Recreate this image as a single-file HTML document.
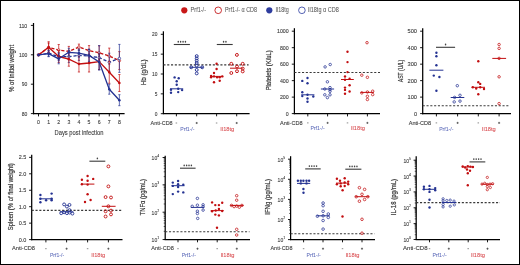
<!DOCTYPE html><html><head><meta charset="utf-8"><style>html,body{margin:0;padding:0;background:#fff;}svg{display:block;will-change:transform;}text{font-family:"Liberation Sans", sans-serif;}</style></head><body>
<svg width="520" height="265" viewBox="0 0 520 265">
<rect x="0" y="0" width="520" height="265" fill="#fff"/>
<circle cx="184.3" cy="10.3" r="3.1" fill="#c81818"/>
<text x="190.6" y="12.3" font-size="6.6" text-anchor="start" fill="#555" stroke="#555" stroke-width="0.05" textLength="15.4" lengthAdjust="spacingAndGlyphs">Prf1-/-</text>
<circle cx="218.2" cy="10.3" r="3.3" fill="none" stroke="#c20e10" stroke-width="0.85"/>
<text x="225" y="12.3" font-size="6.6" text-anchor="start" fill="#555" stroke="#555" stroke-width="0.05" textLength="32" lengthAdjust="spacingAndGlyphs">Prf1-/- α CD8</text>
<circle cx="269.3" cy="10.3" r="3.1" fill="#2e3c9e"/>
<text x="275.6" y="12.3" font-size="6.6" text-anchor="start" fill="#555" stroke="#555" stroke-width="0.05" textLength="13.2" lengthAdjust="spacingAndGlyphs">Il18tg</text>
<circle cx="301.9" cy="10.3" r="3.3" fill="none" stroke="#3444a4" stroke-width="0.85"/>
<text x="308" y="12.3" font-size="6.6" text-anchor="start" fill="#555" stroke="#555" stroke-width="0.05" textLength="30.7" lengthAdjust="spacingAndGlyphs">Il18tg α CD8</text>
<line x1="33.5" y1="23" x2="33.5" y2="114.2" stroke="#000" stroke-width="1.25" stroke-linecap="butt"/>
<line x1="30.9" y1="25.4" x2="33.5" y2="25.4" stroke="#000" stroke-width="0.9" stroke-linecap="butt"/>
<text x="27.3" y="27.5" font-size="6" text-anchor="end" fill="#3a3a3a" stroke="#3a3a3a" stroke-width="0.1" textLength="8.4" lengthAdjust="spacingAndGlyphs">110</text>
<line x1="30.9" y1="54.8" x2="33.5" y2="54.8" stroke="#000" stroke-width="0.9" stroke-linecap="butt"/>
<text x="27.3" y="56.9" font-size="6" text-anchor="end" fill="#3a3a3a" stroke="#3a3a3a" stroke-width="0.1" textLength="8.4" lengthAdjust="spacingAndGlyphs">100</text>
<line x1="30.9" y1="84.2" x2="33.5" y2="84.2" stroke="#000" stroke-width="0.9" stroke-linecap="butt"/>
<text x="27.3" y="86.3" font-size="6" text-anchor="end" fill="#3a3a3a" stroke="#3a3a3a" stroke-width="0.1" textLength="5.6" lengthAdjust="spacingAndGlyphs">90</text>
<line x1="30.9" y1="113.6" x2="33.5" y2="113.6" stroke="#000" stroke-width="0.9" stroke-linecap="butt"/>
<text x="27.3" y="115.7" font-size="6" text-anchor="end" fill="#3a3a3a" stroke="#3a3a3a" stroke-width="0.1" textLength="5.6" lengthAdjust="spacingAndGlyphs">80</text>
<line x1="32.9" y1="113.7" x2="124.6" y2="113.7" stroke="#000" stroke-width="1.25" stroke-linecap="butt"/>
<line x1="38.5" y1="113.6" x2="38.5" y2="116.4" stroke="#000" stroke-width="0.9" stroke-linecap="butt"/>
<text x="38.5" y="124.1" font-size="6" text-anchor="middle" fill="#3a3a3a" stroke="#3a3a3a" stroke-width="0.1" textLength="2.9" lengthAdjust="spacingAndGlyphs">0</text>
<line x1="48.61" y1="113.6" x2="48.61" y2="116.4" stroke="#000" stroke-width="0.9" stroke-linecap="butt"/>
<text x="48.61" y="124.1" font-size="6" text-anchor="middle" fill="#3a3a3a" stroke="#3a3a3a" stroke-width="0.1" textLength="2.9" lengthAdjust="spacingAndGlyphs">1</text>
<line x1="58.72" y1="113.6" x2="58.72" y2="116.4" stroke="#000" stroke-width="0.9" stroke-linecap="butt"/>
<text x="58.72" y="124.1" font-size="6" text-anchor="middle" fill="#3a3a3a" stroke="#3a3a3a" stroke-width="0.1" textLength="2.9" lengthAdjust="spacingAndGlyphs">2</text>
<line x1="68.83" y1="113.6" x2="68.83" y2="116.4" stroke="#000" stroke-width="0.9" stroke-linecap="butt"/>
<text x="68.83" y="124.1" font-size="6" text-anchor="middle" fill="#3a3a3a" stroke="#3a3a3a" stroke-width="0.1" textLength="2.9" lengthAdjust="spacingAndGlyphs">3</text>
<line x1="78.94" y1="113.6" x2="78.94" y2="116.4" stroke="#000" stroke-width="0.9" stroke-linecap="butt"/>
<text x="78.94" y="124.1" font-size="6" text-anchor="middle" fill="#3a3a3a" stroke="#3a3a3a" stroke-width="0.1" textLength="2.9" lengthAdjust="spacingAndGlyphs">4</text>
<line x1="89.05" y1="113.6" x2="89.05" y2="116.4" stroke="#000" stroke-width="0.9" stroke-linecap="butt"/>
<text x="89.05" y="124.1" font-size="6" text-anchor="middle" fill="#3a3a3a" stroke="#3a3a3a" stroke-width="0.1" textLength="2.9" lengthAdjust="spacingAndGlyphs">5</text>
<line x1="99.16" y1="113.6" x2="99.16" y2="116.4" stroke="#000" stroke-width="0.9" stroke-linecap="butt"/>
<text x="99.16" y="124.1" font-size="6" text-anchor="middle" fill="#3a3a3a" stroke="#3a3a3a" stroke-width="0.1" textLength="2.9" lengthAdjust="spacingAndGlyphs">6</text>
<line x1="109.27" y1="113.6" x2="109.27" y2="116.4" stroke="#000" stroke-width="0.9" stroke-linecap="butt"/>
<text x="109.27" y="124.1" font-size="6" text-anchor="middle" fill="#3a3a3a" stroke="#3a3a3a" stroke-width="0.1" textLength="2.9" lengthAdjust="spacingAndGlyphs">7</text>
<line x1="119.38" y1="113.6" x2="119.38" y2="116.4" stroke="#000" stroke-width="0.9" stroke-linecap="butt"/>
<text x="119.38" y="124.1" font-size="6" text-anchor="middle" fill="#3a3a3a" stroke="#3a3a3a" stroke-width="0.1" textLength="2.9" lengthAdjust="spacingAndGlyphs">8</text>
<text x="54.6" y="134.9" font-size="7" text-anchor="start" fill="#3a3a3a" stroke="#3a3a3a" stroke-width="0.1" textLength="48.8" lengthAdjust="spacingAndGlyphs">Days post infection</text>
<text transform="translate(13.9 68.45) rotate(-90)" x="0" y="0" font-size="7" text-anchor="middle" fill="#383838" stroke="#383838" stroke-width="0.2" textLength="47.1" lengthAdjust="spacingAndGlyphs">% of initial weight</text>
<line x1="48.61" y1="43" x2="48.61" y2="52" stroke="#c20e10" stroke-width="0.7" stroke-linecap="butt"/>
<line x1="47.51" y1="43" x2="49.71" y2="43" stroke="#c20e10" stroke-width="0.7" stroke-linecap="butt"/>
<line x1="47.51" y1="52" x2="49.71" y2="52" stroke="#c20e10" stroke-width="0.7" stroke-linecap="butt"/>
<line x1="58.72" y1="44.5" x2="58.72" y2="55.5" stroke="#c20e10" stroke-width="0.7" stroke-linecap="butt"/>
<line x1="57.62" y1="44.5" x2="59.82" y2="44.5" stroke="#c20e10" stroke-width="0.7" stroke-linecap="butt"/>
<line x1="57.62" y1="55.5" x2="59.82" y2="55.5" stroke="#c20e10" stroke-width="0.7" stroke-linecap="butt"/>
<line x1="68.83" y1="46.4" x2="68.83" y2="56.4" stroke="#c20e10" stroke-width="0.7" stroke-linecap="butt"/>
<line x1="67.73" y1="46.4" x2="69.93" y2="46.4" stroke="#c20e10" stroke-width="0.7" stroke-linecap="butt"/>
<line x1="67.73" y1="56.4" x2="69.93" y2="56.4" stroke="#c20e10" stroke-width="0.7" stroke-linecap="butt"/>
<line x1="78.94" y1="44.1" x2="78.94" y2="50.1" stroke="#c20e10" stroke-width="0.7" stroke-linecap="butt"/>
<line x1="77.84" y1="44.1" x2="80.04" y2="44.1" stroke="#c20e10" stroke-width="0.7" stroke-linecap="butt"/>
<line x1="77.84" y1="50.1" x2="80.04" y2="50.1" stroke="#c20e10" stroke-width="0.7" stroke-linecap="butt"/>
<line x1="89.05" y1="45.6" x2="89.05" y2="55.6" stroke="#c20e10" stroke-width="0.7" stroke-linecap="butt"/>
<line x1="87.95" y1="45.6" x2="90.15" y2="45.6" stroke="#c20e10" stroke-width="0.7" stroke-linecap="butt"/>
<line x1="87.95" y1="55.6" x2="90.15" y2="55.6" stroke="#c20e10" stroke-width="0.7" stroke-linecap="butt"/>
<line x1="99.16" y1="45.8" x2="99.16" y2="59.8" stroke="#c20e10" stroke-width="0.7" stroke-linecap="butt"/>
<line x1="98.06" y1="45.8" x2="100.26" y2="45.8" stroke="#c20e10" stroke-width="0.7" stroke-linecap="butt"/>
<line x1="98.06" y1="59.8" x2="100.26" y2="59.8" stroke="#c20e10" stroke-width="0.7" stroke-linecap="butt"/>
<line x1="109.27" y1="48.1" x2="109.27" y2="64.1" stroke="#c20e10" stroke-width="0.7" stroke-linecap="butt"/>
<line x1="108.17" y1="48.1" x2="110.37" y2="48.1" stroke="#c20e10" stroke-width="0.7" stroke-linecap="butt"/>
<line x1="108.17" y1="64.1" x2="110.37" y2="64.1" stroke="#c20e10" stroke-width="0.7" stroke-linecap="butt"/>
<line x1="119.38" y1="51.6" x2="119.38" y2="69.6" stroke="#c20e10" stroke-width="0.7" stroke-linecap="butt"/>
<line x1="118.28" y1="51.6" x2="120.48" y2="51.6" stroke="#c20e10" stroke-width="0.7" stroke-linecap="butt"/>
<line x1="118.28" y1="69.6" x2="120.48" y2="69.6" stroke="#c20e10" stroke-width="0.7" stroke-linecap="butt"/>
<polyline points="38.5,54.9 48.61,47.5 58.72,50 68.83,51.4 78.94,47.1 89.05,50.6 99.16,52.8 109.27,56.1 119.38,60.6" fill="none" stroke="#c20e10" stroke-width="1.3" stroke-dasharray="3.2 1.9" stroke-linejoin="round"/>
<circle cx="38.5" cy="54.9" r="1.25" fill="#fff" stroke="#c20e10" stroke-width="0.7"/>
<circle cx="48.61" cy="47.5" r="1.25" fill="#fff" stroke="#c20e10" stroke-width="0.7"/>
<circle cx="58.72" cy="50" r="1.25" fill="#fff" stroke="#c20e10" stroke-width="0.7"/>
<circle cx="68.83" cy="51.4" r="1.25" fill="#fff" stroke="#c20e10" stroke-width="0.7"/>
<circle cx="78.94" cy="47.1" r="1.25" fill="#fff" stroke="#c20e10" stroke-width="0.7"/>
<circle cx="89.05" cy="50.6" r="1.25" fill="#fff" stroke="#c20e10" stroke-width="0.7"/>
<circle cx="99.16" cy="52.8" r="1.25" fill="#fff" stroke="#c20e10" stroke-width="0.7"/>
<circle cx="109.27" cy="56.1" r="1.25" fill="#fff" stroke="#c20e10" stroke-width="0.7"/>
<circle cx="119.38" cy="60.6" r="1.25" fill="#fff" stroke="#c20e10" stroke-width="0.7"/>
<line x1="48.61" y1="50.2" x2="48.61" y2="56.2" stroke="#243292" stroke-width="0.7" stroke-linecap="butt"/>
<line x1="47.51" y1="50.2" x2="49.71" y2="50.2" stroke="#243292" stroke-width="0.7" stroke-linecap="butt"/>
<line x1="47.51" y1="56.2" x2="49.71" y2="56.2" stroke="#243292" stroke-width="0.7" stroke-linecap="butt"/>
<line x1="58.72" y1="52.6" x2="58.72" y2="60.6" stroke="#243292" stroke-width="0.7" stroke-linecap="butt"/>
<line x1="57.62" y1="52.6" x2="59.82" y2="52.6" stroke="#243292" stroke-width="0.7" stroke-linecap="butt"/>
<line x1="57.62" y1="60.6" x2="59.82" y2="60.6" stroke="#243292" stroke-width="0.7" stroke-linecap="butt"/>
<line x1="68.83" y1="50.6" x2="68.83" y2="62.6" stroke="#243292" stroke-width="0.7" stroke-linecap="butt"/>
<line x1="67.73" y1="50.6" x2="69.93" y2="50.6" stroke="#243292" stroke-width="0.7" stroke-linecap="butt"/>
<line x1="67.73" y1="62.6" x2="69.93" y2="62.6" stroke="#243292" stroke-width="0.7" stroke-linecap="butt"/>
<line x1="78.94" y1="50.4" x2="78.94" y2="60.4" stroke="#243292" stroke-width="0.7" stroke-linecap="butt"/>
<line x1="77.84" y1="50.4" x2="80.04" y2="50.4" stroke="#243292" stroke-width="0.7" stroke-linecap="butt"/>
<line x1="77.84" y1="60.4" x2="80.04" y2="60.4" stroke="#243292" stroke-width="0.7" stroke-linecap="butt"/>
<line x1="89.05" y1="49.1" x2="89.05" y2="63.1" stroke="#243292" stroke-width="0.7" stroke-linecap="butt"/>
<line x1="87.95" y1="49.1" x2="90.15" y2="49.1" stroke="#243292" stroke-width="0.7" stroke-linecap="butt"/>
<line x1="87.95" y1="63.1" x2="90.15" y2="63.1" stroke="#243292" stroke-width="0.7" stroke-linecap="butt"/>
<line x1="99.16" y1="45.6" x2="99.16" y2="69.6" stroke="#243292" stroke-width="0.7" stroke-linecap="butt"/>
<line x1="98.06" y1="45.6" x2="100.26" y2="45.6" stroke="#243292" stroke-width="0.7" stroke-linecap="butt"/>
<line x1="98.06" y1="69.6" x2="100.26" y2="69.6" stroke="#243292" stroke-width="0.7" stroke-linecap="butt"/>
<line x1="109.27" y1="53.2" x2="109.27" y2="71.2" stroke="#243292" stroke-width="0.7" stroke-linecap="butt"/>
<line x1="108.17" y1="53.2" x2="110.37" y2="53.2" stroke="#243292" stroke-width="0.7" stroke-linecap="butt"/>
<line x1="108.17" y1="71.2" x2="110.37" y2="71.2" stroke="#243292" stroke-width="0.7" stroke-linecap="butt"/>
<line x1="119.38" y1="44.4" x2="119.38" y2="72.4" stroke="#243292" stroke-width="0.7" stroke-linecap="butt"/>
<line x1="118.28" y1="44.4" x2="120.48" y2="44.4" stroke="#243292" stroke-width="0.7" stroke-linecap="butt"/>
<line x1="118.28" y1="72.4" x2="120.48" y2="72.4" stroke="#243292" stroke-width="0.7" stroke-linecap="butt"/>
<polyline points="38.5,54.9 48.61,53.2 58.72,56.6 68.83,56.6 78.94,55.4 89.05,56.1 99.16,57.6 109.27,62.2 119.38,58.4" fill="none" stroke="#243292" stroke-width="1.3" stroke-dasharray="3.2 1.9" stroke-linejoin="round"/>
<circle cx="38.5" cy="54.9" r="1.25" fill="#fff" stroke="#243292" stroke-width="0.7"/>
<circle cx="48.61" cy="53.2" r="1.25" fill="#fff" stroke="#243292" stroke-width="0.7"/>
<circle cx="58.72" cy="56.6" r="1.25" fill="#fff" stroke="#243292" stroke-width="0.7"/>
<circle cx="68.83" cy="56.6" r="1.25" fill="#fff" stroke="#243292" stroke-width="0.7"/>
<circle cx="78.94" cy="55.4" r="1.25" fill="#fff" stroke="#243292" stroke-width="0.7"/>
<circle cx="89.05" cy="56.1" r="1.25" fill="#fff" stroke="#243292" stroke-width="0.7"/>
<circle cx="99.16" cy="57.6" r="1.25" fill="#fff" stroke="#243292" stroke-width="0.7"/>
<circle cx="109.27" cy="62.2" r="1.25" fill="#fff" stroke="#243292" stroke-width="0.7"/>
<circle cx="119.38" cy="58.4" r="1.25" fill="#fff" stroke="#243292" stroke-width="0.7"/>
<line x1="48.61" y1="41.7" x2="48.61" y2="52.7" stroke="#c20e10" stroke-width="0.7" stroke-linecap="butt"/>
<line x1="47.51" y1="41.7" x2="49.71" y2="41.7" stroke="#c20e10" stroke-width="0.7" stroke-linecap="butt"/>
<line x1="47.51" y1="52.7" x2="49.71" y2="52.7" stroke="#c20e10" stroke-width="0.7" stroke-linecap="butt"/>
<line x1="58.72" y1="50.5" x2="58.72" y2="62.5" stroke="#c20e10" stroke-width="0.7" stroke-linecap="butt"/>
<line x1="57.62" y1="50.5" x2="59.82" y2="50.5" stroke="#c20e10" stroke-width="0.7" stroke-linecap="butt"/>
<line x1="57.62" y1="62.5" x2="59.82" y2="62.5" stroke="#c20e10" stroke-width="0.7" stroke-linecap="butt"/>
<line x1="68.83" y1="52.2" x2="68.83" y2="66.2" stroke="#c20e10" stroke-width="0.7" stroke-linecap="butt"/>
<line x1="67.73" y1="52.2" x2="69.93" y2="52.2" stroke="#c20e10" stroke-width="0.7" stroke-linecap="butt"/>
<line x1="67.73" y1="66.2" x2="69.93" y2="66.2" stroke="#c20e10" stroke-width="0.7" stroke-linecap="butt"/>
<line x1="78.94" y1="56" x2="78.94" y2="72" stroke="#c20e10" stroke-width="0.7" stroke-linecap="butt"/>
<line x1="77.84" y1="56" x2="80.04" y2="56" stroke="#c20e10" stroke-width="0.7" stroke-linecap="butt"/>
<line x1="77.84" y1="72" x2="80.04" y2="72" stroke="#c20e10" stroke-width="0.7" stroke-linecap="butt"/>
<line x1="89.05" y1="54" x2="89.05" y2="72" stroke="#c20e10" stroke-width="0.7" stroke-linecap="butt"/>
<line x1="87.95" y1="54" x2="90.15" y2="54" stroke="#c20e10" stroke-width="0.7" stroke-linecap="butt"/>
<line x1="87.95" y1="72" x2="90.15" y2="72" stroke="#c20e10" stroke-width="0.7" stroke-linecap="butt"/>
<line x1="99.16" y1="53.6" x2="99.16" y2="69.6" stroke="#c20e10" stroke-width="0.7" stroke-linecap="butt"/>
<line x1="98.06" y1="53.6" x2="100.26" y2="53.6" stroke="#c20e10" stroke-width="0.7" stroke-linecap="butt"/>
<line x1="98.06" y1="69.6" x2="100.26" y2="69.6" stroke="#c20e10" stroke-width="0.7" stroke-linecap="butt"/>
<line x1="109.27" y1="61.3" x2="109.27" y2="83.3" stroke="#c20e10" stroke-width="0.7" stroke-linecap="butt"/>
<line x1="108.17" y1="61.3" x2="110.37" y2="61.3" stroke="#c20e10" stroke-width="0.7" stroke-linecap="butt"/>
<line x1="108.17" y1="83.3" x2="110.37" y2="83.3" stroke="#c20e10" stroke-width="0.7" stroke-linecap="butt"/>
<line x1="119.38" y1="74.5" x2="119.38" y2="91.5" stroke="#c20e10" stroke-width="0.7" stroke-linecap="butt"/>
<line x1="118.28" y1="74.5" x2="120.48" y2="74.5" stroke="#c20e10" stroke-width="0.7" stroke-linecap="butt"/>
<line x1="118.28" y1="91.5" x2="120.48" y2="91.5" stroke="#c20e10" stroke-width="0.7" stroke-linecap="butt"/>
<polyline points="38.5,54.9 48.61,47.2 58.72,56.5 68.83,59.2 78.94,64 89.05,63 99.16,61.6 109.27,72.3 119.38,83" fill="none" stroke="#c20e10" stroke-width="1.3" stroke-linejoin="round"/>
<circle cx="38.5" cy="54.9" r="1.25" fill="#c20e10"/>
<circle cx="48.61" cy="47.2" r="1.25" fill="#c20e10"/>
<circle cx="58.72" cy="56.5" r="1.25" fill="#c20e10"/>
<circle cx="68.83" cy="59.2" r="1.25" fill="#c20e10"/>
<circle cx="78.94" cy="64" r="1.25" fill="#c20e10"/>
<circle cx="89.05" cy="63" r="1.25" fill="#c20e10"/>
<circle cx="99.16" cy="61.6" r="1.25" fill="#c20e10"/>
<circle cx="109.27" cy="72.3" r="1.25" fill="#c20e10"/>
<circle cx="119.38" cy="83" r="1.25" fill="#c20e10"/>
<line x1="48.61" y1="50.7" x2="48.61" y2="56.7" stroke="#243292" stroke-width="0.7" stroke-linecap="butt"/>
<line x1="47.51" y1="50.7" x2="49.71" y2="50.7" stroke="#243292" stroke-width="0.7" stroke-linecap="butt"/>
<line x1="47.51" y1="56.7" x2="49.71" y2="56.7" stroke="#243292" stroke-width="0.7" stroke-linecap="butt"/>
<line x1="58.72" y1="53.8" x2="58.72" y2="63.8" stroke="#243292" stroke-width="0.7" stroke-linecap="butt"/>
<line x1="57.62" y1="53.8" x2="59.82" y2="53.8" stroke="#243292" stroke-width="0.7" stroke-linecap="butt"/>
<line x1="57.62" y1="63.8" x2="59.82" y2="63.8" stroke="#243292" stroke-width="0.7" stroke-linecap="butt"/>
<line x1="68.83" y1="48.3" x2="68.83" y2="56.3" stroke="#243292" stroke-width="0.7" stroke-linecap="butt"/>
<line x1="67.73" y1="48.3" x2="69.93" y2="48.3" stroke="#243292" stroke-width="0.7" stroke-linecap="butt"/>
<line x1="67.73" y1="56.3" x2="69.93" y2="56.3" stroke="#243292" stroke-width="0.7" stroke-linecap="butt"/>
<line x1="78.94" y1="49.2" x2="78.94" y2="57.2" stroke="#243292" stroke-width="0.7" stroke-linecap="butt"/>
<line x1="77.84" y1="49.2" x2="80.04" y2="49.2" stroke="#243292" stroke-width="0.7" stroke-linecap="butt"/>
<line x1="77.84" y1="57.2" x2="80.04" y2="57.2" stroke="#243292" stroke-width="0.7" stroke-linecap="butt"/>
<line x1="89.05" y1="49.4" x2="89.05" y2="61.4" stroke="#243292" stroke-width="0.7" stroke-linecap="butt"/>
<line x1="87.95" y1="49.4" x2="90.15" y2="49.4" stroke="#243292" stroke-width="0.7" stroke-linecap="butt"/>
<line x1="87.95" y1="61.4" x2="90.15" y2="61.4" stroke="#243292" stroke-width="0.7" stroke-linecap="butt"/>
<line x1="99.16" y1="54" x2="99.16" y2="70" stroke="#243292" stroke-width="0.7" stroke-linecap="butt"/>
<line x1="98.06" y1="54" x2="100.26" y2="54" stroke="#243292" stroke-width="0.7" stroke-linecap="butt"/>
<line x1="98.06" y1="70" x2="100.26" y2="70" stroke="#243292" stroke-width="0.7" stroke-linecap="butt"/>
<line x1="109.27" y1="84.2" x2="109.27" y2="94.2" stroke="#243292" stroke-width="0.7" stroke-linecap="butt"/>
<line x1="108.17" y1="84.2" x2="110.37" y2="84.2" stroke="#243292" stroke-width="0.7" stroke-linecap="butt"/>
<line x1="108.17" y1="94.2" x2="110.37" y2="94.2" stroke="#243292" stroke-width="0.7" stroke-linecap="butt"/>
<line x1="119.38" y1="94.7" x2="119.38" y2="105.7" stroke="#243292" stroke-width="0.7" stroke-linecap="butt"/>
<line x1="118.28" y1="94.7" x2="120.48" y2="94.7" stroke="#243292" stroke-width="0.7" stroke-linecap="butt"/>
<line x1="118.28" y1="105.7" x2="120.48" y2="105.7" stroke="#243292" stroke-width="0.7" stroke-linecap="butt"/>
<polyline points="38.5,54.9 48.61,53.7 58.72,58.8 68.83,52.3 78.94,53.2 89.05,55.4 99.16,62 109.27,89.2 119.38,100.2" fill="none" stroke="#243292" stroke-width="1.3" stroke-linejoin="round"/>
<circle cx="38.5" cy="54.9" r="1.25" fill="#243292"/>
<circle cx="48.61" cy="53.7" r="1.25" fill="#243292"/>
<circle cx="58.72" cy="58.8" r="1.25" fill="#243292"/>
<circle cx="68.83" cy="52.3" r="1.25" fill="#243292"/>
<circle cx="78.94" cy="53.2" r="1.25" fill="#243292"/>
<circle cx="89.05" cy="55.4" r="1.25" fill="#243292"/>
<circle cx="99.16" cy="62" r="1.25" fill="#243292"/>
<circle cx="109.27" cy="89.2" r="1.25" fill="#243292"/>
<circle cx="119.38" cy="100.2" r="1.25" fill="#243292"/>
<line x1="163.4" y1="31.3" x2="163.4" y2="114.1" stroke="#000" stroke-width="1.25" stroke-linecap="butt"/>
<line x1="160.8" y1="34.3" x2="163.4" y2="34.3" stroke="#000" stroke-width="0.9" stroke-linecap="butt"/>
<text x="157.5" y="36.4" font-size="6" text-anchor="end" fill="#3a3a3a" stroke="#3a3a3a" stroke-width="0.1" textLength="5.4" lengthAdjust="spacingAndGlyphs">20</text>
<line x1="160.8" y1="54.15" x2="163.4" y2="54.15" stroke="#000" stroke-width="0.9" stroke-linecap="butt"/>
<text x="157.5" y="56.25" font-size="6" text-anchor="end" fill="#3a3a3a" stroke="#3a3a3a" stroke-width="0.1" textLength="5.4" lengthAdjust="spacingAndGlyphs">15</text>
<line x1="160.8" y1="74" x2="163.4" y2="74" stroke="#000" stroke-width="0.9" stroke-linecap="butt"/>
<text x="157.5" y="76.1" font-size="6" text-anchor="end" fill="#3a3a3a" stroke="#3a3a3a" stroke-width="0.1" textLength="5.4" lengthAdjust="spacingAndGlyphs">10</text>
<line x1="160.8" y1="93.85" x2="163.4" y2="93.85" stroke="#000" stroke-width="0.9" stroke-linecap="butt"/>
<text x="157.5" y="95.95" font-size="6" text-anchor="end" fill="#3a3a3a" stroke="#3a3a3a" stroke-width="0.1" textLength="2.7" lengthAdjust="spacingAndGlyphs">5</text>
<line x1="160.8" y1="113.7" x2="163.4" y2="113.7" stroke="#000" stroke-width="0.9" stroke-linecap="butt"/>
<text x="157.5" y="115.8" font-size="6" text-anchor="end" fill="#3a3a3a" stroke="#3a3a3a" stroke-width="0.1" textLength="2.7" lengthAdjust="spacingAndGlyphs">0</text>
<text transform="translate(146.2 72.3) rotate(-90)" x="0" y="0" font-size="6.6" text-anchor="middle" fill="#383838" stroke="#383838" stroke-width="0.2" textLength="26" lengthAdjust="spacingAndGlyphs">Hb (g/dL)</text>
<line x1="162.8" y1="113.5" x2="249.6" y2="113.5" stroke="#000" stroke-width="1.25" stroke-linecap="butt"/>
<line x1="176.4" y1="113.5" x2="176.4" y2="116.3" stroke="#000" stroke-width="0.9" stroke-linecap="butt"/>
<line x1="196.7" y1="113.5" x2="196.7" y2="116.3" stroke="#000" stroke-width="0.9" stroke-linecap="butt"/>
<line x1="216.6" y1="113.5" x2="216.6" y2="116.3" stroke="#000" stroke-width="0.9" stroke-linecap="butt"/>
<line x1="236.7" y1="113.5" x2="236.7" y2="116.3" stroke="#000" stroke-width="0.9" stroke-linecap="butt"/>
<text x="150.5" y="124.6" font-size="6" text-anchor="start" fill="#3a3a3a" stroke="#3a3a3a" stroke-width="0.1" textLength="22.1" lengthAdjust="spacingAndGlyphs">Anti-CD8</text>
<line x1="175.65" y1="123" x2="177.15" y2="123" stroke="#666" stroke-width="0.75" stroke-linecap="butt"/>
<line x1="195.65" y1="123" x2="197.75" y2="123" stroke="#444" stroke-width="0.75" stroke-linecap="butt"/>
<line x1="196.7" y1="121.95" x2="196.7" y2="124.05" stroke="#444" stroke-width="0.75" stroke-linecap="butt"/>
<line x1="215.85" y1="123" x2="217.35" y2="123" stroke="#666" stroke-width="0.75" stroke-linecap="butt"/>
<line x1="235.65" y1="123" x2="237.75" y2="123" stroke="#444" stroke-width="0.75" stroke-linecap="butt"/>
<line x1="236.7" y1="121.95" x2="236.7" y2="124.05" stroke="#444" stroke-width="0.75" stroke-linecap="butt"/>
<text x="187.4" y="130.9" font-size="6" text-anchor="middle" fill="#5a68b8" stroke="#5a68b8" stroke-width="0.05" textLength="14.2" lengthAdjust="spacingAndGlyphs">Prf1-/-</text>
<text x="227.3" y="130.9" font-size="6" text-anchor="middle" fill="#d8484c" stroke="#d8484c" stroke-width="0.05" textLength="14" lengthAdjust="spacingAndGlyphs">Il18tg</text>
<line x1="163.4" y1="64.8" x2="248.6" y2="64.8" stroke="#3a3a3a" stroke-width="1.2" stroke-dasharray="2.1 1.7" stroke-linecap="butt"/>
<line x1="173.8" y1="44.5" x2="189.9" y2="44.5" stroke="#3a3a3a" stroke-width="1.1" stroke-linecap="butt"/>
<ellipse cx="178.25" cy="41.7" rx="0.75" ry="0.95" fill="#444"/>
<ellipse cx="180.65" cy="41.7" rx="0.75" ry="0.95" fill="#444"/>
<ellipse cx="183.05" cy="41.7" rx="0.75" ry="0.95" fill="#444"/>
<ellipse cx="185.45" cy="41.7" rx="0.75" ry="0.95" fill="#444"/>
<line x1="216.8" y1="44.5" x2="232.7" y2="44.5" stroke="#3a3a3a" stroke-width="1.1" stroke-linecap="butt"/>
<ellipse cx="223.55" cy="41.7" rx="0.75" ry="0.95" fill="#444"/>
<ellipse cx="225.95" cy="41.7" rx="0.75" ry="0.95" fill="#444"/>
<circle cx="174.6" cy="77.4" r="1.2" fill="#243292"/>
<circle cx="178.7" cy="78.3" r="1.2" fill="#243292"/>
<circle cx="176.7" cy="81.3" r="1.2" fill="#243292"/>
<circle cx="176.7" cy="84.7" r="1.2" fill="#243292"/>
<circle cx="171" cy="89.7" r="1.2" fill="#243292"/>
<circle cx="171" cy="92.8" r="1.2" fill="#243292"/>
<circle cx="178.2" cy="92.1" r="1.2" fill="#243292"/>
<circle cx="182.1" cy="90.1" r="1.2" fill="#243292"/>
<circle cx="178.2" cy="88.8" r="1.2" fill="#243292"/>
<line x1="170" y1="88.8" x2="183.2" y2="88.8" stroke="#243292" stroke-width="1" stroke-linecap="butt"/>
<circle cx="196.7" cy="56.1" r="1.45" fill="none" stroke="#243292" stroke-width="0.95"/>
<circle cx="196.7" cy="58.4" r="1.45" fill="none" stroke="#243292" stroke-width="0.95"/>
<circle cx="196.7" cy="60.7" r="1.45" fill="none" stroke="#243292" stroke-width="0.95"/>
<circle cx="196.7" cy="63" r="1.45" fill="none" stroke="#243292" stroke-width="0.95"/>
<circle cx="196.7" cy="65.6" r="1.45" fill="none" stroke="#243292" stroke-width="0.95"/>
<circle cx="191.2" cy="67.3" r="1.45" fill="none" stroke="#243292" stroke-width="0.95"/>
<circle cx="202.2" cy="67.3" r="1.45" fill="none" stroke="#243292" stroke-width="0.95"/>
<circle cx="196.7" cy="69.9" r="1.45" fill="none" stroke="#243292" stroke-width="0.95"/>
<circle cx="196.7" cy="73.4" r="1.45" fill="none" stroke="#243292" stroke-width="0.95"/>
<line x1="190" y1="67.3" x2="203.2" y2="67.3" stroke="#243292" stroke-width="1" stroke-linecap="butt"/>
<circle cx="216.6" cy="63.8" r="1.2" fill="#c20e10"/>
<circle cx="216.6" cy="69" r="1.2" fill="#c20e10"/>
<circle cx="214" cy="73" r="1.2" fill="#c20e10"/>
<circle cx="211.1" cy="75.9" r="1.2" fill="#c20e10"/>
<circle cx="211.1" cy="77.3" r="1.2" fill="#c20e10"/>
<circle cx="214" cy="76.4" r="1.2" fill="#c20e10"/>
<circle cx="217.1" cy="77.3" r="1.2" fill="#c20e10"/>
<circle cx="219.7" cy="77.3" r="1.2" fill="#c20e10"/>
<circle cx="214" cy="82.2" r="1.2" fill="#c20e10"/>
<circle cx="219.7" cy="80.8" r="1.2" fill="#c20e10"/>
<circle cx="222.3" cy="76.4" r="1.2" fill="#c20e10"/>
<line x1="210.2" y1="76.4" x2="223.2" y2="76.4" stroke="#c20e10" stroke-width="1" stroke-linecap="butt"/>
<circle cx="236.9" cy="54.9" r="1.45" fill="none" stroke="#c20e10" stroke-width="0.95"/>
<circle cx="231.3" cy="63.8" r="1.45" fill="none" stroke="#c20e10" stroke-width="0.95"/>
<circle cx="242.7" cy="63.8" r="1.45" fill="none" stroke="#c20e10" stroke-width="0.95"/>
<circle cx="237" cy="66.5" r="1.45" fill="none" stroke="#c20e10" stroke-width="0.95"/>
<circle cx="231.3" cy="73" r="1.45" fill="none" stroke="#c20e10" stroke-width="0.95"/>
<circle cx="237" cy="71.2" r="1.45" fill="none" stroke="#c20e10" stroke-width="0.95"/>
<circle cx="242.7" cy="71.4" r="1.45" fill="none" stroke="#c20e10" stroke-width="0.95"/>
<circle cx="242.7" cy="68.6" r="1.45" fill="none" stroke="#c20e10" stroke-width="0.95"/>
<line x1="230" y1="68.2" x2="242.8" y2="68.2" stroke="#c20e10" stroke-width="1" stroke-linecap="butt"/>
<line x1="294.4" y1="28.2" x2="294.4" y2="114.2" stroke="#000" stroke-width="1.25" stroke-linecap="butt"/>
<line x1="291.8" y1="31.2" x2="294.4" y2="31.2" stroke="#000" stroke-width="0.9" stroke-linecap="butt"/>
<text x="288.7" y="33.3" font-size="6" text-anchor="end" fill="#3a3a3a" stroke="#3a3a3a" stroke-width="0.1" textLength="11.7" lengthAdjust="spacingAndGlyphs">1000</text>
<line x1="291.8" y1="47.68" x2="294.4" y2="47.68" stroke="#000" stroke-width="0.9" stroke-linecap="butt"/>
<text x="288.7" y="49.78" font-size="6" text-anchor="end" fill="#3a3a3a" stroke="#3a3a3a" stroke-width="0.1" textLength="8.8" lengthAdjust="spacingAndGlyphs">800</text>
<line x1="291.8" y1="64.16" x2="294.4" y2="64.16" stroke="#000" stroke-width="0.9" stroke-linecap="butt"/>
<text x="288.7" y="66.26" font-size="6" text-anchor="end" fill="#3a3a3a" stroke="#3a3a3a" stroke-width="0.1" textLength="8.8" lengthAdjust="spacingAndGlyphs">600</text>
<line x1="291.8" y1="80.64" x2="294.4" y2="80.64" stroke="#000" stroke-width="0.9" stroke-linecap="butt"/>
<text x="288.7" y="82.74" font-size="6" text-anchor="end" fill="#3a3a3a" stroke="#3a3a3a" stroke-width="0.1" textLength="8.8" lengthAdjust="spacingAndGlyphs">400</text>
<line x1="291.8" y1="97.12" x2="294.4" y2="97.12" stroke="#000" stroke-width="0.9" stroke-linecap="butt"/>
<text x="288.7" y="99.22" font-size="6" text-anchor="end" fill="#3a3a3a" stroke="#3a3a3a" stroke-width="0.1" textLength="8.8" lengthAdjust="spacingAndGlyphs">200</text>
<line x1="291.8" y1="113.6" x2="294.4" y2="113.6" stroke="#000" stroke-width="0.9" stroke-linecap="butt"/>
<text x="288.7" y="115.7" font-size="6" text-anchor="end" fill="#3a3a3a" stroke="#3a3a3a" stroke-width="0.1" textLength="2.9" lengthAdjust="spacingAndGlyphs">0</text>
<text transform="translate(271.3 70.3) rotate(-90)" x="0" y="0" font-size="6.6" text-anchor="middle" fill="#383838" stroke="#383838" stroke-width="0.2" textLength="40.1" lengthAdjust="spacingAndGlyphs">Platelets (K/uL)</text>
<line x1="293.8" y1="113.6" x2="380" y2="113.6" stroke="#000" stroke-width="1.25" stroke-linecap="butt"/>
<line x1="307.8" y1="113.6" x2="307.8" y2="116.4" stroke="#000" stroke-width="0.9" stroke-linecap="butt"/>
<line x1="327.6" y1="113.6" x2="327.6" y2="116.4" stroke="#000" stroke-width="0.9" stroke-linecap="butt"/>
<line x1="347.5" y1="113.6" x2="347.5" y2="116.4" stroke="#000" stroke-width="0.9" stroke-linecap="butt"/>
<line x1="367.4" y1="113.6" x2="367.4" y2="116.4" stroke="#000" stroke-width="0.9" stroke-linecap="butt"/>
<text x="280" y="124.5" font-size="6" text-anchor="start" fill="#3a3a3a" stroke="#3a3a3a" stroke-width="0.1" textLength="22.5" lengthAdjust="spacingAndGlyphs">Anti-CD8</text>
<line x1="307.05" y1="122.9" x2="308.55" y2="122.9" stroke="#666" stroke-width="0.75" stroke-linecap="butt"/>
<line x1="326.55" y1="122.9" x2="328.65" y2="122.9" stroke="#444" stroke-width="0.75" stroke-linecap="butt"/>
<line x1="327.6" y1="121.85" x2="327.6" y2="123.95" stroke="#444" stroke-width="0.75" stroke-linecap="butt"/>
<line x1="346.75" y1="122.9" x2="348.25" y2="122.9" stroke="#666" stroke-width="0.75" stroke-linecap="butt"/>
<line x1="366.35" y1="122.9" x2="368.45" y2="122.9" stroke="#444" stroke-width="0.75" stroke-linecap="butt"/>
<line x1="367.4" y1="121.85" x2="367.4" y2="123.95" stroke="#444" stroke-width="0.75" stroke-linecap="butt"/>
<text x="317.5" y="130.3" font-size="6" text-anchor="middle" fill="#5a68b8" stroke="#5a68b8" stroke-width="0.05" textLength="14.2" lengthAdjust="spacingAndGlyphs">Prf1-/-</text>
<text x="358" y="130.3" font-size="6" text-anchor="middle" fill="#d8484c" stroke="#d8484c" stroke-width="0.05" textLength="14" lengthAdjust="spacingAndGlyphs">Il18tg</text>
<line x1="294.4" y1="72.5" x2="380" y2="72.5" stroke="#3a3a3a" stroke-width="1.2" stroke-dasharray="2.1 1.7" stroke-linecap="butt"/>
<circle cx="302.3" cy="80.9" r="1.2" fill="#243292"/>
<circle cx="307.5" cy="78" r="1.2" fill="#243292"/>
<circle cx="307.5" cy="83.2" r="1.2" fill="#243292"/>
<circle cx="302.3" cy="92.2" r="1.2" fill="#243292"/>
<circle cx="302.3" cy="96.1" r="1.2" fill="#243292"/>
<circle cx="307.5" cy="94.8" r="1.2" fill="#243292"/>
<circle cx="313.3" cy="96.5" r="1.2" fill="#243292"/>
<circle cx="307.5" cy="98.5" r="1.2" fill="#243292"/>
<circle cx="307.5" cy="101.7" r="1.2" fill="#243292"/>
<line x1="301.2" y1="94.8" x2="314.4" y2="94.8" stroke="#243292" stroke-width="1" stroke-linecap="butt"/>
<circle cx="325.1" cy="66.9" r="1.25" fill="none" stroke="#243292" stroke-width="0.75"/>
<circle cx="330.2" cy="64.5" r="1.25" fill="none" stroke="#243292" stroke-width="0.75"/>
<circle cx="327.4" cy="81.8" r="1.25" fill="none" stroke="#243292" stroke-width="0.75"/>
<circle cx="324.8" cy="89" r="1.25" fill="none" stroke="#243292" stroke-width="0.75"/>
<circle cx="330" cy="87.6" r="1.25" fill="none" stroke="#243292" stroke-width="0.75"/>
<circle cx="330" cy="89.6" r="1.25" fill="none" stroke="#243292" stroke-width="0.75"/>
<circle cx="330" cy="91.3" r="1.25" fill="none" stroke="#243292" stroke-width="0.75"/>
<circle cx="324.8" cy="94.8" r="1.25" fill="none" stroke="#243292" stroke-width="0.75"/>
<circle cx="330" cy="94.8" r="1.25" fill="none" stroke="#243292" stroke-width="0.75"/>
<circle cx="327.4" cy="97.6" r="1.25" fill="none" stroke="#243292" stroke-width="0.75"/>
<line x1="320.9" y1="89" x2="334.1" y2="89" stroke="#243292" stroke-width="1" stroke-linecap="butt"/>
<circle cx="347.5" cy="51.8" r="1.2" fill="#c20e10"/>
<circle cx="347.5" cy="62.1" r="1.2" fill="#c20e10"/>
<circle cx="347.5" cy="72.1" r="1.2" fill="#c20e10"/>
<circle cx="345" cy="76.5" r="1.2" fill="#c20e10"/>
<circle cx="345" cy="79.8" r="1.2" fill="#c20e10"/>
<circle cx="349.6" cy="78.8" r="1.2" fill="#c20e10"/>
<circle cx="349.6" cy="85.3" r="1.2" fill="#c20e10"/>
<circle cx="345" cy="87.6" r="1.2" fill="#c20e10"/>
<circle cx="345" cy="89.9" r="1.2" fill="#c20e10"/>
<circle cx="349.6" cy="91.5" r="1.2" fill="#c20e10"/>
<circle cx="345" cy="93.8" r="1.2" fill="#c20e10"/>
<line x1="341" y1="79.5" x2="353.8" y2="79.5" stroke="#c20e10" stroke-width="1" stroke-linecap="butt"/>
<circle cx="367" cy="42.7" r="1.25" fill="none" stroke="#c20e10" stroke-width="0.75"/>
<circle cx="361.8" cy="75.2" r="1.25" fill="none" stroke="#c20e10" stroke-width="0.75"/>
<circle cx="367.4" cy="77.3" r="1.25" fill="none" stroke="#c20e10" stroke-width="0.75"/>
<circle cx="361.8" cy="92.9" r="1.25" fill="none" stroke="#c20e10" stroke-width="0.75"/>
<circle cx="367.4" cy="92" r="1.25" fill="none" stroke="#c20e10" stroke-width="0.75"/>
<circle cx="372.7" cy="91.2" r="1.25" fill="none" stroke="#c20e10" stroke-width="0.75"/>
<circle cx="367.4" cy="96.3" r="1.25" fill="none" stroke="#c20e10" stroke-width="0.75"/>
<circle cx="372.7" cy="94.6" r="1.25" fill="none" stroke="#c20e10" stroke-width="0.75"/>
<circle cx="367.4" cy="99.5" r="1.25" fill="none" stroke="#c20e10" stroke-width="0.75"/>
<line x1="360.6" y1="92.4" x2="373.8" y2="92.4" stroke="#c20e10" stroke-width="1" stroke-linecap="butt"/>
<line x1="422.7" y1="28.2" x2="422.7" y2="114.2" stroke="#000" stroke-width="1.25" stroke-linecap="butt"/>
<line x1="420.1" y1="31.2" x2="422.7" y2="31.2" stroke="#000" stroke-width="0.9" stroke-linecap="butt"/>
<text x="417" y="33.3" font-size="6" text-anchor="end" fill="#3a3a3a" stroke="#3a3a3a" stroke-width="0.1" textLength="9.5" lengthAdjust="spacingAndGlyphs">500</text>
<line x1="420.1" y1="47.68" x2="422.7" y2="47.68" stroke="#000" stroke-width="0.9" stroke-linecap="butt"/>
<text x="417" y="49.78" font-size="6" text-anchor="end" fill="#3a3a3a" stroke="#3a3a3a" stroke-width="0.1" textLength="9.5" lengthAdjust="spacingAndGlyphs">400</text>
<line x1="420.1" y1="64.16" x2="422.7" y2="64.16" stroke="#000" stroke-width="0.9" stroke-linecap="butt"/>
<text x="417" y="66.26" font-size="6" text-anchor="end" fill="#3a3a3a" stroke="#3a3a3a" stroke-width="0.1" textLength="9.5" lengthAdjust="spacingAndGlyphs">300</text>
<line x1="420.1" y1="80.64" x2="422.7" y2="80.64" stroke="#000" stroke-width="0.9" stroke-linecap="butt"/>
<text x="417" y="82.74" font-size="6" text-anchor="end" fill="#3a3a3a" stroke="#3a3a3a" stroke-width="0.1" textLength="9.5" lengthAdjust="spacingAndGlyphs">200</text>
<line x1="420.1" y1="97.12" x2="422.7" y2="97.12" stroke="#000" stroke-width="0.9" stroke-linecap="butt"/>
<text x="417" y="99.22" font-size="6" text-anchor="end" fill="#3a3a3a" stroke="#3a3a3a" stroke-width="0.1" textLength="9.5" lengthAdjust="spacingAndGlyphs">100</text>
<line x1="420.1" y1="113.6" x2="422.7" y2="113.6" stroke="#000" stroke-width="0.9" stroke-linecap="butt"/>
<text x="417" y="115.7" font-size="6" text-anchor="end" fill="#3a3a3a" stroke="#3a3a3a" stroke-width="0.1" textLength="3.1" lengthAdjust="spacingAndGlyphs">0</text>
<text transform="translate(403 71) rotate(-90)" x="0" y="0" font-size="6.6" text-anchor="middle" fill="#383838" stroke="#383838" stroke-width="0.2" textLength="22.5" lengthAdjust="spacingAndGlyphs">AST (U/L)</text>
<line x1="422.1" y1="113.6" x2="511" y2="113.6" stroke="#000" stroke-width="1.25" stroke-linecap="butt"/>
<line x1="436.4" y1="113.6" x2="436.4" y2="116.4" stroke="#000" stroke-width="0.9" stroke-linecap="butt"/>
<line x1="457.6" y1="113.6" x2="457.6" y2="116.4" stroke="#000" stroke-width="0.9" stroke-linecap="butt"/>
<line x1="478.3" y1="113.6" x2="478.3" y2="116.4" stroke="#000" stroke-width="0.9" stroke-linecap="butt"/>
<line x1="499.1" y1="113.6" x2="499.1" y2="116.4" stroke="#000" stroke-width="0.9" stroke-linecap="butt"/>
<text x="408.7" y="124.5" font-size="6" text-anchor="start" fill="#3a3a3a" stroke="#3a3a3a" stroke-width="0.1" textLength="22.5" lengthAdjust="spacingAndGlyphs">Anti-CD8</text>
<line x1="435.65" y1="122.9" x2="437.15" y2="122.9" stroke="#666" stroke-width="0.75" stroke-linecap="butt"/>
<line x1="456.55" y1="122.9" x2="458.65" y2="122.9" stroke="#444" stroke-width="0.75" stroke-linecap="butt"/>
<line x1="457.6" y1="121.85" x2="457.6" y2="123.95" stroke="#444" stroke-width="0.75" stroke-linecap="butt"/>
<line x1="477.55" y1="122.9" x2="479.05" y2="122.9" stroke="#666" stroke-width="0.75" stroke-linecap="butt"/>
<line x1="498.05" y1="122.9" x2="500.15" y2="122.9" stroke="#444" stroke-width="0.75" stroke-linecap="butt"/>
<line x1="499.1" y1="121.85" x2="499.1" y2="123.95" stroke="#444" stroke-width="0.75" stroke-linecap="butt"/>
<text x="446.3" y="130.8" font-size="6" text-anchor="middle" fill="#5a68b8" stroke="#5a68b8" stroke-width="0.05" textLength="14.2" lengthAdjust="spacingAndGlyphs">Prf1-/-</text>
<text x="488.8" y="130.8" font-size="6" text-anchor="middle" fill="#d8484c" stroke="#d8484c" stroke-width="0.05" textLength="14" lengthAdjust="spacingAndGlyphs">Il18tg</text>
<line x1="422.7" y1="105.75" x2="510" y2="105.75" stroke="#3a3a3a" stroke-width="1.2" stroke-dasharray="2.1 1.7" stroke-linecap="butt"/>
<line x1="436" y1="47.3" x2="455.1" y2="47.3" stroke="#3a3a3a" stroke-width="1.1" stroke-linecap="butt"/>
<ellipse cx="445.55" cy="44.5" rx="0.75" ry="0.95" fill="#444"/>
<circle cx="436.4" cy="52.7" r="1.2" fill="#243292"/>
<circle cx="436.4" cy="56.2" r="1.2" fill="#243292"/>
<circle cx="436.4" cy="65.2" r="1.2" fill="#243292"/>
<circle cx="433.8" cy="75.6" r="1.2" fill="#243292"/>
<circle cx="439.4" cy="77" r="1.2" fill="#243292"/>
<circle cx="436.4" cy="90.8" r="1.2" fill="#243292"/>
<line x1="429.4" y1="70.2" x2="443.4" y2="70.2" stroke="#243292" stroke-width="1" stroke-linecap="butt"/>
<circle cx="457.3" cy="85.7" r="1.25" fill="none" stroke="#243292" stroke-width="0.75"/>
<circle cx="454.6" cy="97.4" r="1.25" fill="none" stroke="#243292" stroke-width="0.75"/>
<circle cx="460" cy="95.3" r="1.25" fill="none" stroke="#243292" stroke-width="0.75"/>
<circle cx="454.2" cy="101.9" r="1.25" fill="none" stroke="#243292" stroke-width="0.75"/>
<circle cx="460" cy="101.1" r="1.25" fill="none" stroke="#243292" stroke-width="0.75"/>
<line x1="450.7" y1="97.5" x2="464.3" y2="97.5" stroke="#243292" stroke-width="1" stroke-linecap="butt"/>
<circle cx="478.3" cy="61.3" r="1.2" fill="#c20e10"/>
<circle cx="478.3" cy="82.2" r="1.2" fill="#c20e10"/>
<circle cx="480.2" cy="83.9" r="1.2" fill="#c20e10"/>
<circle cx="472.8" cy="87.3" r="1.2" fill="#c20e10"/>
<circle cx="476.2" cy="88.5" r="1.2" fill="#c20e10"/>
<circle cx="480.2" cy="87.3" r="1.2" fill="#c20e10"/>
<circle cx="484" cy="89" r="1.2" fill="#c20e10"/>
<circle cx="478.3" cy="94.3" r="1.2" fill="#c20e10"/>
<line x1="471.6" y1="87.3" x2="485" y2="87.3" stroke="#c20e10" stroke-width="1" stroke-linecap="butt"/>
<circle cx="499.1" cy="44.5" r="1.25" fill="none" stroke="#c20e10" stroke-width="0.75"/>
<circle cx="499.1" cy="48.4" r="1.25" fill="none" stroke="#c20e10" stroke-width="0.75"/>
<circle cx="499.1" cy="58.4" r="1.25" fill="none" stroke="#c20e10" stroke-width="0.75"/>
<circle cx="499.1" cy="76.8" r="1.25" fill="none" stroke="#c20e10" stroke-width="0.75"/>
<circle cx="499.1" cy="103.6" r="1.25" fill="none" stroke="#c20e10" stroke-width="0.75"/>
<line x1="492.3" y1="58.4" x2="506.1" y2="58.4" stroke="#c20e10" stroke-width="1" stroke-linecap="butt"/>
<line x1="31.7" y1="154.7" x2="31.7" y2="240.2" stroke="#000" stroke-width="1.25" stroke-linecap="butt"/>
<line x1="29.1" y1="157.35" x2="31.7" y2="157.35" stroke="#000" stroke-width="0.9" stroke-linecap="butt"/>
<text x="26.3" y="159.45" font-size="6" text-anchor="end" fill="#3a3a3a" stroke="#3a3a3a" stroke-width="0.1" textLength="7.6" lengthAdjust="spacingAndGlyphs">2.5</text>
<line x1="29.1" y1="173.8" x2="31.7" y2="173.8" stroke="#000" stroke-width="0.9" stroke-linecap="butt"/>
<text x="26.3" y="175.9" font-size="6" text-anchor="end" fill="#3a3a3a" stroke="#3a3a3a" stroke-width="0.1" textLength="7.6" lengthAdjust="spacingAndGlyphs">2.0</text>
<line x1="29.1" y1="190.25" x2="31.7" y2="190.25" stroke="#000" stroke-width="0.9" stroke-linecap="butt"/>
<text x="26.3" y="192.35" font-size="6" text-anchor="end" fill="#3a3a3a" stroke="#3a3a3a" stroke-width="0.1" textLength="7.6" lengthAdjust="spacingAndGlyphs">1.5</text>
<line x1="29.1" y1="206.7" x2="31.7" y2="206.7" stroke="#000" stroke-width="0.9" stroke-linecap="butt"/>
<text x="26.3" y="208.8" font-size="6" text-anchor="end" fill="#3a3a3a" stroke="#3a3a3a" stroke-width="0.1" textLength="7.6" lengthAdjust="spacingAndGlyphs">1.0</text>
<line x1="29.1" y1="223.15" x2="31.7" y2="223.15" stroke="#000" stroke-width="0.9" stroke-linecap="butt"/>
<text x="26.3" y="225.25" font-size="6" text-anchor="end" fill="#3a3a3a" stroke="#3a3a3a" stroke-width="0.1" textLength="7.6" lengthAdjust="spacingAndGlyphs">0.5</text>
<line x1="29.1" y1="239.6" x2="31.7" y2="239.6" stroke="#000" stroke-width="0.9" stroke-linecap="butt"/>
<text x="26.3" y="241.7" font-size="6" text-anchor="end" fill="#3a3a3a" stroke="#3a3a3a" stroke-width="0.1" textLength="7.6" lengthAdjust="spacingAndGlyphs">0.0</text>
<text transform="translate(13.4 196.7) rotate(-90)" x="0" y="0" font-size="6.6" text-anchor="middle" fill="#383838" stroke="#383838" stroke-width="0.2" textLength="66.9" lengthAdjust="spacingAndGlyphs">Spleen (% of final weight)</text>
<line x1="31.1" y1="239.6" x2="122.5" y2="239.6" stroke="#000" stroke-width="1.25" stroke-linecap="butt"/>
<line x1="45.9" y1="239.6" x2="45.9" y2="242.4" stroke="#000" stroke-width="0.9" stroke-linecap="butt"/>
<line x1="66.6" y1="239.6" x2="66.6" y2="242.4" stroke="#000" stroke-width="0.9" stroke-linecap="butt"/>
<line x1="87.6" y1="239.6" x2="87.6" y2="242.4" stroke="#000" stroke-width="0.9" stroke-linecap="butt"/>
<line x1="108.4" y1="239.6" x2="108.4" y2="242.4" stroke="#000" stroke-width="0.9" stroke-linecap="butt"/>
<text x="12" y="250.3" font-size="6" text-anchor="start" fill="#3a3a3a" stroke="#3a3a3a" stroke-width="0.1" textLength="23" lengthAdjust="spacingAndGlyphs">Anti-CD8</text>
<line x1="45.15" y1="248.7" x2="46.65" y2="248.7" stroke="#666" stroke-width="0.75" stroke-linecap="butt"/>
<line x1="65.55" y1="248.7" x2="67.65" y2="248.7" stroke="#444" stroke-width="0.75" stroke-linecap="butt"/>
<line x1="66.6" y1="247.65" x2="66.6" y2="249.75" stroke="#444" stroke-width="0.75" stroke-linecap="butt"/>
<line x1="86.85" y1="248.7" x2="88.35" y2="248.7" stroke="#666" stroke-width="0.75" stroke-linecap="butt"/>
<line x1="107.35" y1="248.7" x2="109.45" y2="248.7" stroke="#444" stroke-width="0.75" stroke-linecap="butt"/>
<line x1="108.4" y1="247.65" x2="108.4" y2="249.75" stroke="#444" stroke-width="0.75" stroke-linecap="butt"/>
<text x="57" y="256.7" font-size="6" text-anchor="middle" fill="#5a68b8" stroke="#5a68b8" stroke-width="0.05" textLength="14.2" lengthAdjust="spacingAndGlyphs">Prf1-/-</text>
<text x="98.3" y="256.7" font-size="6" text-anchor="middle" fill="#d8484c" stroke="#d8484c" stroke-width="0.05" textLength="14" lengthAdjust="spacingAndGlyphs">Il18tg</text>
<line x1="31.7" y1="210.4" x2="122" y2="210.4" stroke="#3a3a3a" stroke-width="1.2" stroke-dasharray="2.1 1.7" stroke-linecap="butt"/>
<line x1="89.4" y1="161.2" x2="105.3" y2="161.2" stroke="#3a3a3a" stroke-width="1.1" stroke-linecap="butt"/>
<ellipse cx="97.35" cy="158.4" rx="0.75" ry="0.95" fill="#444"/>
<circle cx="40.4" cy="195" r="1.2" fill="#243292"/>
<circle cx="51.6" cy="193.6" r="1.2" fill="#243292"/>
<circle cx="46.1" cy="200.2" r="1.2" fill="#243292"/>
<circle cx="40.4" cy="202.3" r="1.2" fill="#243292"/>
<circle cx="51.6" cy="200.2" r="1.2" fill="#243292"/>
<circle cx="40.4" cy="198.8" r="1.2" fill="#243292"/>
<circle cx="51.6" cy="198.8" r="1.2" fill="#243292"/>
<line x1="39.4" y1="198.8" x2="52.6" y2="198.8" stroke="#243292" stroke-width="1" stroke-linecap="butt"/>
<circle cx="64.1" cy="204.4" r="1.45" fill="none" stroke="#243292" stroke-width="0.9"/>
<circle cx="69.5" cy="204.9" r="1.45" fill="none" stroke="#243292" stroke-width="0.9"/>
<circle cx="66.9" cy="206.6" r="1.45" fill="none" stroke="#243292" stroke-width="0.9"/>
<circle cx="69.5" cy="210.1" r="1.45" fill="none" stroke="#243292" stroke-width="0.9"/>
<circle cx="61.2" cy="213.2" r="1.45" fill="none" stroke="#243292" stroke-width="0.9"/>
<circle cx="64.1" cy="212.3" r="1.45" fill="none" stroke="#243292" stroke-width="0.9"/>
<circle cx="66.9" cy="213.2" r="1.45" fill="none" stroke="#243292" stroke-width="0.9"/>
<circle cx="72.4" cy="213.6" r="1.45" fill="none" stroke="#243292" stroke-width="0.9"/>
<circle cx="69.5" cy="212.6" r="1.45" fill="none" stroke="#243292" stroke-width="0.9"/>
<line x1="59.8" y1="211.8" x2="73.4" y2="211.8" stroke="#243292" stroke-width="1" stroke-linecap="butt"/>
<circle cx="87.6" cy="176" r="1.2" fill="#c20e10"/>
<circle cx="81.9" cy="179.8" r="1.2" fill="#c20e10"/>
<circle cx="87.6" cy="180.8" r="1.2" fill="#c20e10"/>
<circle cx="93.2" cy="178.9" r="1.2" fill="#c20e10"/>
<circle cx="81.9" cy="184.3" r="1.2" fill="#c20e10"/>
<circle cx="87.6" cy="184.6" r="1.2" fill="#c20e10"/>
<circle cx="87.6" cy="194.3" r="1.2" fill="#c20e10"/>
<circle cx="85" cy="202" r="1.2" fill="#c20e10"/>
<circle cx="90.6" cy="200" r="1.2" fill="#c20e10"/>
<line x1="81" y1="184.1" x2="94.4" y2="184.1" stroke="#c20e10" stroke-width="1" stroke-linecap="butt"/>
<circle cx="108.4" cy="166.4" r="1.45" fill="none" stroke="#c20e10" stroke-width="0.9"/>
<circle cx="108.4" cy="186.4" r="1.45" fill="none" stroke="#c20e10" stroke-width="0.9"/>
<circle cx="105.6" cy="197.1" r="1.45" fill="none" stroke="#c20e10" stroke-width="0.9"/>
<circle cx="111" cy="197.5" r="1.45" fill="none" stroke="#c20e10" stroke-width="0.9"/>
<circle cx="108.4" cy="206.3" r="1.45" fill="none" stroke="#c20e10" stroke-width="0.9"/>
<circle cx="105.6" cy="211.3" r="1.45" fill="none" stroke="#c20e10" stroke-width="0.9"/>
<circle cx="111" cy="210.6" r="1.45" fill="none" stroke="#c20e10" stroke-width="0.9"/>
<circle cx="105.6" cy="216.5" r="1.45" fill="none" stroke="#c20e10" stroke-width="0.9"/>
<circle cx="111" cy="214.4" r="1.45" fill="none" stroke="#c20e10" stroke-width="0.9"/>
<line x1="101.8" y1="206.3" x2="115.6" y2="206.3" stroke="#c20e10" stroke-width="1" stroke-linecap="butt"/>
<line x1="165.2" y1="155.7" x2="165.2" y2="240.1" stroke="#000" stroke-width="1.25" stroke-linecap="butt"/>
<line x1="162.6" y1="157.5" x2="165.2" y2="157.5" stroke="#000" stroke-width="0.9" stroke-linecap="butt"/>
<text x="157.2" y="160" font-size="6" text-anchor="end" fill="#3a3a3a" stroke="#3a3a3a" stroke-width="0.1" textLength="5.6" lengthAdjust="spacingAndGlyphs">10</text>
<text x="157.4" y="157" font-size="2.7" text-anchor="start" fill="#333" stroke="#333" stroke-width="0.12">4</text>
<line x1="162.6" y1="184.85" x2="165.2" y2="184.85" stroke="#000" stroke-width="0.9" stroke-linecap="butt"/>
<text x="157.2" y="187.35" font-size="6" text-anchor="end" fill="#3a3a3a" stroke="#3a3a3a" stroke-width="0.1" textLength="5.6" lengthAdjust="spacingAndGlyphs">10</text>
<text x="157.4" y="184.35" font-size="2.7" text-anchor="start" fill="#333" stroke="#333" stroke-width="0.12">3</text>
<line x1="162.6" y1="212.2" x2="165.2" y2="212.2" stroke="#000" stroke-width="0.9" stroke-linecap="butt"/>
<text x="157.2" y="214.7" font-size="6" text-anchor="end" fill="#3a3a3a" stroke="#3a3a3a" stroke-width="0.1" textLength="5.6" lengthAdjust="spacingAndGlyphs">10</text>
<text x="157.4" y="211.7" font-size="2.7" text-anchor="start" fill="#333" stroke="#333" stroke-width="0.12">2</text>
<line x1="162.6" y1="239.55" x2="165.2" y2="239.55" stroke="#000" stroke-width="0.9" stroke-linecap="butt"/>
<text x="157.2" y="242.05" font-size="6" text-anchor="end" fill="#3a3a3a" stroke="#3a3a3a" stroke-width="0.1" textLength="5.6" lengthAdjust="spacingAndGlyphs">10</text>
<text x="157.4" y="239.05" font-size="2.7" text-anchor="start" fill="#333" stroke="#333" stroke-width="0.12">1</text>
<line x1="163.7" y1="176.62" x2="165.2" y2="176.62" stroke="#000" stroke-width="0.6" stroke-linecap="butt"/>
<line x1="163.7" y1="171.8" x2="165.2" y2="171.8" stroke="#000" stroke-width="0.6" stroke-linecap="butt"/>
<line x1="163.7" y1="168.38" x2="165.2" y2="168.38" stroke="#000" stroke-width="0.6" stroke-linecap="butt"/>
<line x1="163.7" y1="165.73" x2="165.2" y2="165.73" stroke="#000" stroke-width="0.6" stroke-linecap="butt"/>
<line x1="163.7" y1="163.57" x2="165.2" y2="163.57" stroke="#000" stroke-width="0.6" stroke-linecap="butt"/>
<line x1="163.7" y1="161.74" x2="165.2" y2="161.74" stroke="#000" stroke-width="0.6" stroke-linecap="butt"/>
<line x1="163.7" y1="160.15" x2="165.2" y2="160.15" stroke="#000" stroke-width="0.6" stroke-linecap="butt"/>
<line x1="163.7" y1="158.75" x2="165.2" y2="158.75" stroke="#000" stroke-width="0.6" stroke-linecap="butt"/>
<line x1="163.7" y1="203.97" x2="165.2" y2="203.97" stroke="#000" stroke-width="0.6" stroke-linecap="butt"/>
<line x1="163.7" y1="199.15" x2="165.2" y2="199.15" stroke="#000" stroke-width="0.6" stroke-linecap="butt"/>
<line x1="163.7" y1="195.73" x2="165.2" y2="195.73" stroke="#000" stroke-width="0.6" stroke-linecap="butt"/>
<line x1="163.7" y1="193.08" x2="165.2" y2="193.08" stroke="#000" stroke-width="0.6" stroke-linecap="butt"/>
<line x1="163.7" y1="190.92" x2="165.2" y2="190.92" stroke="#000" stroke-width="0.6" stroke-linecap="butt"/>
<line x1="163.7" y1="189.09" x2="165.2" y2="189.09" stroke="#000" stroke-width="0.6" stroke-linecap="butt"/>
<line x1="163.7" y1="187.5" x2="165.2" y2="187.5" stroke="#000" stroke-width="0.6" stroke-linecap="butt"/>
<line x1="163.7" y1="186.1" x2="165.2" y2="186.1" stroke="#000" stroke-width="0.6" stroke-linecap="butt"/>
<line x1="163.7" y1="231.32" x2="165.2" y2="231.32" stroke="#000" stroke-width="0.6" stroke-linecap="butt"/>
<line x1="163.7" y1="226.5" x2="165.2" y2="226.5" stroke="#000" stroke-width="0.6" stroke-linecap="butt"/>
<line x1="163.7" y1="223.08" x2="165.2" y2="223.08" stroke="#000" stroke-width="0.6" stroke-linecap="butt"/>
<line x1="163.7" y1="220.43" x2="165.2" y2="220.43" stroke="#000" stroke-width="0.6" stroke-linecap="butt"/>
<line x1="163.7" y1="218.27" x2="165.2" y2="218.27" stroke="#000" stroke-width="0.6" stroke-linecap="butt"/>
<line x1="163.7" y1="216.44" x2="165.2" y2="216.44" stroke="#000" stroke-width="0.6" stroke-linecap="butt"/>
<line x1="163.7" y1="214.85" x2="165.2" y2="214.85" stroke="#000" stroke-width="0.6" stroke-linecap="butt"/>
<line x1="163.7" y1="213.45" x2="165.2" y2="213.45" stroke="#000" stroke-width="0.6" stroke-linecap="butt"/>
<text transform="translate(145.3 197.1) rotate(-90)" x="0" y="0" font-size="6.6" text-anchor="middle" fill="#383838" stroke="#383838" stroke-width="0.2" textLength="36.3" lengthAdjust="spacingAndGlyphs">TNFα (pg/mL)</text>
<line x1="164.6" y1="239.5" x2="250" y2="239.5" stroke="#000" stroke-width="1.25" stroke-linecap="butt"/>
<line x1="178" y1="239.5" x2="178" y2="242.3" stroke="#000" stroke-width="0.9" stroke-linecap="butt"/>
<line x1="197.5" y1="239.5" x2="197.5" y2="242.3" stroke="#000" stroke-width="0.9" stroke-linecap="butt"/>
<line x1="217.2" y1="239.5" x2="217.2" y2="242.3" stroke="#000" stroke-width="0.9" stroke-linecap="butt"/>
<line x1="236.8" y1="239.5" x2="236.8" y2="242.3" stroke="#000" stroke-width="0.9" stroke-linecap="butt"/>
<text x="151.3" y="250.3" font-size="6" text-anchor="start" fill="#3a3a3a" stroke="#3a3a3a" stroke-width="0.1" textLength="22.5" lengthAdjust="spacingAndGlyphs">Anti-CD8</text>
<line x1="177.25" y1="248.7" x2="178.75" y2="248.7" stroke="#666" stroke-width="0.75" stroke-linecap="butt"/>
<line x1="196.45" y1="248.7" x2="198.55" y2="248.7" stroke="#444" stroke-width="0.75" stroke-linecap="butt"/>
<line x1="197.5" y1="247.65" x2="197.5" y2="249.75" stroke="#444" stroke-width="0.75" stroke-linecap="butt"/>
<line x1="216.45" y1="248.7" x2="217.95" y2="248.7" stroke="#666" stroke-width="0.75" stroke-linecap="butt"/>
<line x1="235.75" y1="248.7" x2="237.85" y2="248.7" stroke="#444" stroke-width="0.75" stroke-linecap="butt"/>
<line x1="236.8" y1="247.65" x2="236.8" y2="249.75" stroke="#444" stroke-width="0.75" stroke-linecap="butt"/>
<text x="188.8" y="257.1" font-size="6" text-anchor="middle" fill="#5a68b8" stroke="#5a68b8" stroke-width="0.05" textLength="14.2" lengthAdjust="spacingAndGlyphs">Prf1-/-</text>
<text x="227.5" y="257.1" font-size="6" text-anchor="middle" fill="#d8484c" stroke="#d8484c" stroke-width="0.05" textLength="14" lengthAdjust="spacingAndGlyphs">Il18tg</text>
<line x1="165.2" y1="231.75" x2="249.5" y2="231.75" stroke="#3a3a3a" stroke-width="1.2" stroke-dasharray="2.1 1.7" stroke-linecap="butt"/>
<line x1="180" y1="168.2" x2="195.6" y2="168.2" stroke="#3a3a3a" stroke-width="1.1" stroke-linecap="butt"/>
<ellipse cx="184.2" cy="165.4" rx="0.75" ry="0.95" fill="#444"/>
<ellipse cx="186.6" cy="165.4" rx="0.75" ry="0.95" fill="#444"/>
<ellipse cx="189" cy="165.4" rx="0.75" ry="0.95" fill="#444"/>
<ellipse cx="191.4" cy="165.4" rx="0.75" ry="0.95" fill="#444"/>
<circle cx="172.8" cy="182.6" r="1.2" fill="#243292"/>
<circle cx="178.1" cy="181" r="1.2" fill="#243292"/>
<circle cx="178.1" cy="184.3" r="1.2" fill="#243292"/>
<circle cx="183.3" cy="184.7" r="1.2" fill="#243292"/>
<circle cx="172.8" cy="185.9" r="1.2" fill="#243292"/>
<circle cx="178.1" cy="187" r="1.2" fill="#243292"/>
<circle cx="172.8" cy="194.1" r="1.2" fill="#243292"/>
<circle cx="178.1" cy="191.6" r="1.2" fill="#243292"/>
<circle cx="183.3" cy="192.4" r="1.2" fill="#243292"/>
<line x1="171.5" y1="185.7" x2="184.5" y2="185.7" stroke="#243292" stroke-width="1" stroke-linecap="butt"/>
<circle cx="197.4" cy="198.4" r="1.25" fill="none" stroke="#243292" stroke-width="0.75"/>
<circle cx="192.2" cy="206.3" r="1.25" fill="none" stroke="#243292" stroke-width="0.75"/>
<circle cx="197.4" cy="205.2" r="1.25" fill="none" stroke="#243292" stroke-width="0.75"/>
<circle cx="203.1" cy="204.8" r="1.25" fill="none" stroke="#243292" stroke-width="0.75"/>
<circle cx="203.1" cy="206.7" r="1.25" fill="none" stroke="#243292" stroke-width="0.75"/>
<circle cx="203.1" cy="210.1" r="1.25" fill="none" stroke="#243292" stroke-width="0.75"/>
<circle cx="197.4" cy="211.2" r="1.25" fill="none" stroke="#243292" stroke-width="0.75"/>
<circle cx="197.4" cy="213.5" r="1.25" fill="none" stroke="#243292" stroke-width="0.75"/>
<circle cx="197.7" cy="218.4" r="1.25" fill="none" stroke="#243292" stroke-width="0.75"/>
<line x1="190.8" y1="207.4" x2="204.2" y2="207.4" stroke="#243292" stroke-width="1" stroke-linecap="butt"/>
<circle cx="212.1" cy="202.4" r="1.2" fill="#c20e10"/>
<circle cx="215.3" cy="205.1" r="1.2" fill="#c20e10"/>
<circle cx="218.9" cy="205.1" r="1.2" fill="#c20e10"/>
<circle cx="222.2" cy="202.8" r="1.2" fill="#c20e10"/>
<circle cx="212.1" cy="211.3" r="1.2" fill="#c20e10"/>
<circle cx="215.7" cy="210.5" r="1.2" fill="#c20e10"/>
<circle cx="218.9" cy="208.9" r="1.2" fill="#c20e10"/>
<circle cx="222.2" cy="211" r="1.2" fill="#c20e10"/>
<circle cx="215.3" cy="214.6" r="1.2" fill="#c20e10"/>
<circle cx="218.9" cy="215.4" r="1.2" fill="#c20e10"/>
<circle cx="217" cy="227.7" r="1.2" fill="#c20e10"/>
<line x1="210.7" y1="210.6" x2="223.7" y2="210.6" stroke="#c20e10" stroke-width="1" stroke-linecap="butt"/>
<circle cx="236.7" cy="195.7" r="1.25" fill="none" stroke="#c20e10" stroke-width="0.75"/>
<circle cx="236.7" cy="200.2" r="1.25" fill="none" stroke="#c20e10" stroke-width="0.75"/>
<circle cx="231.5" cy="205.4" r="1.25" fill="none" stroke="#c20e10" stroke-width="0.75"/>
<circle cx="234.1" cy="206.6" r="1.25" fill="none" stroke="#c20e10" stroke-width="0.75"/>
<circle cx="236.7" cy="206.1" r="1.25" fill="none" stroke="#c20e10" stroke-width="0.75"/>
<circle cx="239.3" cy="207.2" r="1.25" fill="none" stroke="#c20e10" stroke-width="0.75"/>
<circle cx="241.9" cy="205.4" r="1.25" fill="none" stroke="#c20e10" stroke-width="0.75"/>
<circle cx="236.7" cy="229.3" r="1.25" fill="none" stroke="#c20e10" stroke-width="0.75"/>
<circle cx="236.7" cy="235" r="1.25" fill="none" stroke="#c20e10" stroke-width="0.75"/>
<line x1="230.2" y1="205.4" x2="243.6" y2="205.4" stroke="#c20e10" stroke-width="1" stroke-linecap="butt"/>
<line x1="290.6" y1="156.2" x2="290.6" y2="240.1" stroke="#000" stroke-width="1.25" stroke-linecap="butt"/>
<line x1="288" y1="159.2" x2="290.6" y2="159.2" stroke="#000" stroke-width="0.9" stroke-linecap="butt"/>
<text x="283.2" y="161.7" font-size="6" text-anchor="end" fill="#3a3a3a" stroke="#3a3a3a" stroke-width="0.1" textLength="5.6" lengthAdjust="spacingAndGlyphs">10</text>
<text x="283.4" y="158.7" font-size="2.7" text-anchor="start" fill="#333" stroke="#333" stroke-width="0.12">5</text>
<line x1="288" y1="179.3" x2="290.6" y2="179.3" stroke="#000" stroke-width="0.9" stroke-linecap="butt"/>
<text x="283.2" y="181.8" font-size="6" text-anchor="end" fill="#3a3a3a" stroke="#3a3a3a" stroke-width="0.1" textLength="5.6" lengthAdjust="spacingAndGlyphs">10</text>
<text x="283.4" y="178.8" font-size="2.7" text-anchor="start" fill="#333" stroke="#333" stroke-width="0.12">4</text>
<line x1="288" y1="199.4" x2="290.6" y2="199.4" stroke="#000" stroke-width="0.9" stroke-linecap="butt"/>
<text x="283.2" y="201.9" font-size="6" text-anchor="end" fill="#3a3a3a" stroke="#3a3a3a" stroke-width="0.1" textLength="5.6" lengthAdjust="spacingAndGlyphs">10</text>
<text x="283.4" y="198.9" font-size="2.7" text-anchor="start" fill="#333" stroke="#333" stroke-width="0.12">3</text>
<line x1="288" y1="219.5" x2="290.6" y2="219.5" stroke="#000" stroke-width="0.9" stroke-linecap="butt"/>
<text x="283.2" y="222" font-size="6" text-anchor="end" fill="#3a3a3a" stroke="#3a3a3a" stroke-width="0.1" textLength="5.6" lengthAdjust="spacingAndGlyphs">10</text>
<text x="283.4" y="219" font-size="2.7" text-anchor="start" fill="#333" stroke="#333" stroke-width="0.12">2</text>
<line x1="288" y1="239.6" x2="290.6" y2="239.6" stroke="#000" stroke-width="0.9" stroke-linecap="butt"/>
<text x="283.2" y="242.1" font-size="6" text-anchor="end" fill="#3a3a3a" stroke="#3a3a3a" stroke-width="0.1" textLength="5.6" lengthAdjust="spacingAndGlyphs">10</text>
<text x="283.4" y="239.1" font-size="2.7" text-anchor="start" fill="#333" stroke="#333" stroke-width="0.12">1</text>
<line x1="289.1" y1="173.25" x2="290.6" y2="173.25" stroke="#000" stroke-width="0.6" stroke-linecap="butt"/>
<line x1="289.1" y1="169.71" x2="290.6" y2="169.71" stroke="#000" stroke-width="0.6" stroke-linecap="butt"/>
<line x1="289.1" y1="167.2" x2="290.6" y2="167.2" stroke="#000" stroke-width="0.6" stroke-linecap="butt"/>
<line x1="289.1" y1="165.25" x2="290.6" y2="165.25" stroke="#000" stroke-width="0.6" stroke-linecap="butt"/>
<line x1="289.1" y1="163.66" x2="290.6" y2="163.66" stroke="#000" stroke-width="0.6" stroke-linecap="butt"/>
<line x1="289.1" y1="162.31" x2="290.6" y2="162.31" stroke="#000" stroke-width="0.6" stroke-linecap="butt"/>
<line x1="289.1" y1="161.15" x2="290.6" y2="161.15" stroke="#000" stroke-width="0.6" stroke-linecap="butt"/>
<line x1="289.1" y1="160.12" x2="290.6" y2="160.12" stroke="#000" stroke-width="0.6" stroke-linecap="butt"/>
<line x1="289.1" y1="193.35" x2="290.6" y2="193.35" stroke="#000" stroke-width="0.6" stroke-linecap="butt"/>
<line x1="289.1" y1="189.81" x2="290.6" y2="189.81" stroke="#000" stroke-width="0.6" stroke-linecap="butt"/>
<line x1="289.1" y1="187.3" x2="290.6" y2="187.3" stroke="#000" stroke-width="0.6" stroke-linecap="butt"/>
<line x1="289.1" y1="185.35" x2="290.6" y2="185.35" stroke="#000" stroke-width="0.6" stroke-linecap="butt"/>
<line x1="289.1" y1="183.76" x2="290.6" y2="183.76" stroke="#000" stroke-width="0.6" stroke-linecap="butt"/>
<line x1="289.1" y1="182.41" x2="290.6" y2="182.41" stroke="#000" stroke-width="0.6" stroke-linecap="butt"/>
<line x1="289.1" y1="181.25" x2="290.6" y2="181.25" stroke="#000" stroke-width="0.6" stroke-linecap="butt"/>
<line x1="289.1" y1="180.22" x2="290.6" y2="180.22" stroke="#000" stroke-width="0.6" stroke-linecap="butt"/>
<line x1="289.1" y1="213.45" x2="290.6" y2="213.45" stroke="#000" stroke-width="0.6" stroke-linecap="butt"/>
<line x1="289.1" y1="209.91" x2="290.6" y2="209.91" stroke="#000" stroke-width="0.6" stroke-linecap="butt"/>
<line x1="289.1" y1="207.4" x2="290.6" y2="207.4" stroke="#000" stroke-width="0.6" stroke-linecap="butt"/>
<line x1="289.1" y1="205.45" x2="290.6" y2="205.45" stroke="#000" stroke-width="0.6" stroke-linecap="butt"/>
<line x1="289.1" y1="203.86" x2="290.6" y2="203.86" stroke="#000" stroke-width="0.6" stroke-linecap="butt"/>
<line x1="289.1" y1="202.51" x2="290.6" y2="202.51" stroke="#000" stroke-width="0.6" stroke-linecap="butt"/>
<line x1="289.1" y1="201.35" x2="290.6" y2="201.35" stroke="#000" stroke-width="0.6" stroke-linecap="butt"/>
<line x1="289.1" y1="200.32" x2="290.6" y2="200.32" stroke="#000" stroke-width="0.6" stroke-linecap="butt"/>
<line x1="289.1" y1="233.55" x2="290.6" y2="233.55" stroke="#000" stroke-width="0.6" stroke-linecap="butt"/>
<line x1="289.1" y1="230.01" x2="290.6" y2="230.01" stroke="#000" stroke-width="0.6" stroke-linecap="butt"/>
<line x1="289.1" y1="227.5" x2="290.6" y2="227.5" stroke="#000" stroke-width="0.6" stroke-linecap="butt"/>
<line x1="289.1" y1="225.55" x2="290.6" y2="225.55" stroke="#000" stroke-width="0.6" stroke-linecap="butt"/>
<line x1="289.1" y1="223.96" x2="290.6" y2="223.96" stroke="#000" stroke-width="0.6" stroke-linecap="butt"/>
<line x1="289.1" y1="222.61" x2="290.6" y2="222.61" stroke="#000" stroke-width="0.6" stroke-linecap="butt"/>
<line x1="289.1" y1="221.45" x2="290.6" y2="221.45" stroke="#000" stroke-width="0.6" stroke-linecap="butt"/>
<line x1="289.1" y1="220.42" x2="290.6" y2="220.42" stroke="#000" stroke-width="0.6" stroke-linecap="butt"/>
<text transform="translate(269.8 196.9) rotate(-90)" x="0" y="0" font-size="6.6" text-anchor="middle" fill="#383838" stroke="#383838" stroke-width="0.2" textLength="35.8" lengthAdjust="spacingAndGlyphs">IFNg (pg/mL)</text>
<line x1="290" y1="239.5" x2="375" y2="239.5" stroke="#000" stroke-width="1.25" stroke-linecap="butt"/>
<line x1="303.6" y1="239.5" x2="303.6" y2="242.3" stroke="#000" stroke-width="0.9" stroke-linecap="butt"/>
<line x1="323" y1="239.5" x2="323" y2="242.3" stroke="#000" stroke-width="0.9" stroke-linecap="butt"/>
<line x1="342.5" y1="239.5" x2="342.5" y2="242.3" stroke="#000" stroke-width="0.9" stroke-linecap="butt"/>
<line x1="362" y1="239.5" x2="362" y2="242.3" stroke="#000" stroke-width="0.9" stroke-linecap="butt"/>
<text x="270.5" y="250.3" font-size="6" text-anchor="start" fill="#3a3a3a" stroke="#3a3a3a" stroke-width="0.1" textLength="22" lengthAdjust="spacingAndGlyphs">Anti-CD8</text>
<line x1="302.85" y1="248.7" x2="304.35" y2="248.7" stroke="#666" stroke-width="0.75" stroke-linecap="butt"/>
<line x1="321.95" y1="248.7" x2="324.05" y2="248.7" stroke="#444" stroke-width="0.75" stroke-linecap="butt"/>
<line x1="323" y1="247.65" x2="323" y2="249.75" stroke="#444" stroke-width="0.75" stroke-linecap="butt"/>
<line x1="341.75" y1="248.7" x2="343.25" y2="248.7" stroke="#666" stroke-width="0.75" stroke-linecap="butt"/>
<line x1="360.95" y1="248.7" x2="363.05" y2="248.7" stroke="#444" stroke-width="0.75" stroke-linecap="butt"/>
<line x1="362" y1="247.65" x2="362" y2="249.75" stroke="#444" stroke-width="0.75" stroke-linecap="butt"/>
<text x="313.7" y="257.1" font-size="6" text-anchor="middle" fill="#5a68b8" stroke="#5a68b8" stroke-width="0.05" textLength="14.2" lengthAdjust="spacingAndGlyphs">Prf1-/-</text>
<text x="352.5" y="257.1" font-size="6" text-anchor="middle" fill="#d8484c" stroke="#d8484c" stroke-width="0.05" textLength="14" lengthAdjust="spacingAndGlyphs">Il18tg</text>
<line x1="290.6" y1="233.75" x2="374.5" y2="233.75" stroke="#3a3a3a" stroke-width="1.2" stroke-dasharray="2.1 1.7" stroke-linecap="butt"/>
<line x1="305.2" y1="168.9" x2="320.7" y2="168.9" stroke="#3a3a3a" stroke-width="1.1" stroke-linecap="butt"/>
<ellipse cx="309.35" cy="166.1" rx="0.75" ry="0.95" fill="#444"/>
<ellipse cx="311.75" cy="166.1" rx="0.75" ry="0.95" fill="#444"/>
<ellipse cx="314.15" cy="166.1" rx="0.75" ry="0.95" fill="#444"/>
<ellipse cx="316.55" cy="166.1" rx="0.75" ry="0.95" fill="#444"/>
<line x1="345.3" y1="169.2" x2="361.4" y2="169.2" stroke="#3a3a3a" stroke-width="1.1" stroke-linecap="butt"/>
<ellipse cx="349.75" cy="166.4" rx="0.75" ry="0.95" fill="#444"/>
<ellipse cx="352.15" cy="166.4" rx="0.75" ry="0.95" fill="#444"/>
<ellipse cx="354.55" cy="166.4" rx="0.75" ry="0.95" fill="#444"/>
<ellipse cx="356.95" cy="166.4" rx="0.75" ry="0.95" fill="#444"/>
<circle cx="297.9" cy="180.8" r="1.2" fill="#243292"/>
<circle cx="300.8" cy="180.8" r="1.2" fill="#243292"/>
<circle cx="303.4" cy="180.8" r="1.2" fill="#243292"/>
<circle cx="306.5" cy="180.8" r="1.2" fill="#243292"/>
<circle cx="309.1" cy="180.8" r="1.2" fill="#243292"/>
<circle cx="300.8" cy="183.4" r="1.2" fill="#243292"/>
<circle cx="306.5" cy="183.4" r="1.2" fill="#243292"/>
<circle cx="303.4" cy="189" r="1.2" fill="#243292"/>
<circle cx="303.5" cy="192.8" r="1.2" fill="#243292"/>
<line x1="297" y1="183.4" x2="310.2" y2="183.4" stroke="#243292" stroke-width="1" stroke-linecap="butt"/>
<circle cx="323.1" cy="203" r="1.3" fill="none" stroke="#243292" stroke-width="0.75"/>
<circle cx="323.1" cy="205.7" r="1.3" fill="none" stroke="#243292" stroke-width="0.75"/>
<circle cx="323.1" cy="211.3" r="1.3" fill="none" stroke="#243292" stroke-width="0.75"/>
<circle cx="317.4" cy="216.2" r="1.3" fill="none" stroke="#243292" stroke-width="0.75"/>
<circle cx="323.1" cy="215.8" r="1.3" fill="none" stroke="#243292" stroke-width="0.75"/>
<circle cx="328.3" cy="214" r="1.3" fill="none" stroke="#243292" stroke-width="0.75"/>
<circle cx="328.3" cy="217.4" r="1.3" fill="none" stroke="#243292" stroke-width="0.75"/>
<circle cx="323.1" cy="220.5" r="1.3" fill="none" stroke="#243292" stroke-width="0.75"/>
<circle cx="323.1" cy="229.1" r="1.3" fill="none" stroke="#243292" stroke-width="0.75"/>
<line x1="316.7" y1="215.8" x2="329.7" y2="215.8" stroke="#243292" stroke-width="1" stroke-linecap="butt"/>
<circle cx="336.9" cy="178.7" r="1.2" fill="#c20e10"/>
<circle cx="340" cy="180.8" r="1.2" fill="#c20e10"/>
<circle cx="344.7" cy="178.2" r="1.2" fill="#c20e10"/>
<circle cx="336.9" cy="184.2" r="1.2" fill="#c20e10"/>
<circle cx="340.7" cy="183.4" r="1.2" fill="#c20e10"/>
<circle cx="344.7" cy="182.5" r="1.2" fill="#c20e10"/>
<circle cx="348.2" cy="181.6" r="1.2" fill="#c20e10"/>
<circle cx="348.2" cy="184.2" r="1.2" fill="#c20e10"/>
<circle cx="340.7" cy="186.3" r="1.2" fill="#c20e10"/>
<circle cx="344.7" cy="186" r="1.2" fill="#c20e10"/>
<circle cx="342.6" cy="190.3" r="1.2" fill="#c20e10"/>
<circle cx="342.5" cy="216.5" r="1.2" fill="#c20e10"/>
<line x1="336" y1="183.1" x2="349" y2="183.1" stroke="#c20e10" stroke-width="1" stroke-linecap="butt"/>
<circle cx="359.4" cy="187.7" r="1.3" fill="none" stroke="#c20e10" stroke-width="0.75"/>
<circle cx="364.6" cy="189.4" r="1.3" fill="none" stroke="#c20e10" stroke-width="0.75"/>
<circle cx="362" cy="194.3" r="1.3" fill="none" stroke="#c20e10" stroke-width="0.75"/>
<circle cx="356.2" cy="196.7" r="1.3" fill="none" stroke="#c20e10" stroke-width="0.75"/>
<circle cx="367.8" cy="196.7" r="1.3" fill="none" stroke="#c20e10" stroke-width="0.75"/>
<circle cx="359.4" cy="201.2" r="1.3" fill="none" stroke="#c20e10" stroke-width="0.75"/>
<circle cx="364.6" cy="199.5" r="1.3" fill="none" stroke="#c20e10" stroke-width="0.75"/>
<circle cx="362" cy="219.3" r="1.3" fill="none" stroke="#c20e10" stroke-width="0.75"/>
<circle cx="362" cy="233.2" r="1.3" fill="none" stroke="#c20e10" stroke-width="0.75"/>
<line x1="355.2" y1="196.7" x2="369.2" y2="196.7" stroke="#c20e10" stroke-width="1" stroke-linecap="butt"/>
<line x1="416.2" y1="156.2" x2="416.2" y2="240.1" stroke="#000" stroke-width="1.25" stroke-linecap="butt"/>
<line x1="413.6" y1="160.2" x2="416.2" y2="160.2" stroke="#000" stroke-width="0.9" stroke-linecap="butt"/>
<text x="409.1" y="162.7" font-size="6" text-anchor="end" fill="#3a3a3a" stroke="#3a3a3a" stroke-width="0.1" textLength="5.6" lengthAdjust="spacingAndGlyphs">10</text>
<text x="409.3" y="159.7" font-size="2.7" text-anchor="start" fill="#333" stroke="#333" stroke-width="0.12">5</text>
<line x1="413.6" y1="176.06" x2="416.2" y2="176.06" stroke="#000" stroke-width="0.9" stroke-linecap="butt"/>
<text x="409.1" y="178.56" font-size="6" text-anchor="end" fill="#3a3a3a" stroke="#3a3a3a" stroke-width="0.1" textLength="5.6" lengthAdjust="spacingAndGlyphs">10</text>
<text x="409.3" y="175.56" font-size="2.7" text-anchor="start" fill="#333" stroke="#333" stroke-width="0.12">4</text>
<line x1="413.6" y1="191.92" x2="416.2" y2="191.92" stroke="#000" stroke-width="0.9" stroke-linecap="butt"/>
<text x="409.1" y="194.42" font-size="6" text-anchor="end" fill="#3a3a3a" stroke="#3a3a3a" stroke-width="0.1" textLength="5.6" lengthAdjust="spacingAndGlyphs">10</text>
<text x="409.3" y="191.42" font-size="2.7" text-anchor="start" fill="#333" stroke="#333" stroke-width="0.12">3</text>
<line x1="413.6" y1="207.78" x2="416.2" y2="207.78" stroke="#000" stroke-width="0.9" stroke-linecap="butt"/>
<text x="409.1" y="210.28" font-size="6" text-anchor="end" fill="#3a3a3a" stroke="#3a3a3a" stroke-width="0.1" textLength="5.6" lengthAdjust="spacingAndGlyphs">10</text>
<text x="409.3" y="207.28" font-size="2.7" text-anchor="start" fill="#333" stroke="#333" stroke-width="0.12">2</text>
<line x1="413.6" y1="223.64" x2="416.2" y2="223.64" stroke="#000" stroke-width="0.9" stroke-linecap="butt"/>
<text x="409.1" y="226.14" font-size="6" text-anchor="end" fill="#3a3a3a" stroke="#3a3a3a" stroke-width="0.1" textLength="5.6" lengthAdjust="spacingAndGlyphs">10</text>
<text x="409.3" y="223.14" font-size="2.7" text-anchor="start" fill="#333" stroke="#333" stroke-width="0.12">1</text>
<line x1="413.6" y1="239.5" x2="416.2" y2="239.5" stroke="#000" stroke-width="0.9" stroke-linecap="butt"/>
<text x="409.1" y="242" font-size="6" text-anchor="end" fill="#3a3a3a" stroke="#3a3a3a" stroke-width="0.1" textLength="5.6" lengthAdjust="spacingAndGlyphs">10</text>
<text x="409.3" y="239" font-size="2.7" text-anchor="start" fill="#333" stroke="#333" stroke-width="0.12">0</text>
<line x1="414.7" y1="171.29" x2="416.2" y2="171.29" stroke="#000" stroke-width="0.6" stroke-linecap="butt"/>
<line x1="414.7" y1="168.49" x2="416.2" y2="168.49" stroke="#000" stroke-width="0.6" stroke-linecap="butt"/>
<line x1="414.7" y1="166.51" x2="416.2" y2="166.51" stroke="#000" stroke-width="0.6" stroke-linecap="butt"/>
<line x1="414.7" y1="164.97" x2="416.2" y2="164.97" stroke="#000" stroke-width="0.6" stroke-linecap="butt"/>
<line x1="414.7" y1="163.72" x2="416.2" y2="163.72" stroke="#000" stroke-width="0.6" stroke-linecap="butt"/>
<line x1="414.7" y1="162.66" x2="416.2" y2="162.66" stroke="#000" stroke-width="0.6" stroke-linecap="butt"/>
<line x1="414.7" y1="161.74" x2="416.2" y2="161.74" stroke="#000" stroke-width="0.6" stroke-linecap="butt"/>
<line x1="414.7" y1="160.93" x2="416.2" y2="160.93" stroke="#000" stroke-width="0.6" stroke-linecap="butt"/>
<line x1="414.7" y1="187.15" x2="416.2" y2="187.15" stroke="#000" stroke-width="0.6" stroke-linecap="butt"/>
<line x1="414.7" y1="184.35" x2="416.2" y2="184.35" stroke="#000" stroke-width="0.6" stroke-linecap="butt"/>
<line x1="414.7" y1="182.37" x2="416.2" y2="182.37" stroke="#000" stroke-width="0.6" stroke-linecap="butt"/>
<line x1="414.7" y1="180.83" x2="416.2" y2="180.83" stroke="#000" stroke-width="0.6" stroke-linecap="butt"/>
<line x1="414.7" y1="179.58" x2="416.2" y2="179.58" stroke="#000" stroke-width="0.6" stroke-linecap="butt"/>
<line x1="414.7" y1="178.52" x2="416.2" y2="178.52" stroke="#000" stroke-width="0.6" stroke-linecap="butt"/>
<line x1="414.7" y1="177.6" x2="416.2" y2="177.6" stroke="#000" stroke-width="0.6" stroke-linecap="butt"/>
<line x1="414.7" y1="176.79" x2="416.2" y2="176.79" stroke="#000" stroke-width="0.6" stroke-linecap="butt"/>
<line x1="414.7" y1="203.01" x2="416.2" y2="203.01" stroke="#000" stroke-width="0.6" stroke-linecap="butt"/>
<line x1="414.7" y1="200.21" x2="416.2" y2="200.21" stroke="#000" stroke-width="0.6" stroke-linecap="butt"/>
<line x1="414.7" y1="198.23" x2="416.2" y2="198.23" stroke="#000" stroke-width="0.6" stroke-linecap="butt"/>
<line x1="414.7" y1="196.69" x2="416.2" y2="196.69" stroke="#000" stroke-width="0.6" stroke-linecap="butt"/>
<line x1="414.7" y1="195.44" x2="416.2" y2="195.44" stroke="#000" stroke-width="0.6" stroke-linecap="butt"/>
<line x1="414.7" y1="194.38" x2="416.2" y2="194.38" stroke="#000" stroke-width="0.6" stroke-linecap="butt"/>
<line x1="414.7" y1="193.46" x2="416.2" y2="193.46" stroke="#000" stroke-width="0.6" stroke-linecap="butt"/>
<line x1="414.7" y1="192.65" x2="416.2" y2="192.65" stroke="#000" stroke-width="0.6" stroke-linecap="butt"/>
<line x1="414.7" y1="218.87" x2="416.2" y2="218.87" stroke="#000" stroke-width="0.6" stroke-linecap="butt"/>
<line x1="414.7" y1="216.07" x2="416.2" y2="216.07" stroke="#000" stroke-width="0.6" stroke-linecap="butt"/>
<line x1="414.7" y1="214.09" x2="416.2" y2="214.09" stroke="#000" stroke-width="0.6" stroke-linecap="butt"/>
<line x1="414.7" y1="212.55" x2="416.2" y2="212.55" stroke="#000" stroke-width="0.6" stroke-linecap="butt"/>
<line x1="414.7" y1="211.3" x2="416.2" y2="211.3" stroke="#000" stroke-width="0.6" stroke-linecap="butt"/>
<line x1="414.7" y1="210.24" x2="416.2" y2="210.24" stroke="#000" stroke-width="0.6" stroke-linecap="butt"/>
<line x1="414.7" y1="209.32" x2="416.2" y2="209.32" stroke="#000" stroke-width="0.6" stroke-linecap="butt"/>
<line x1="414.7" y1="208.51" x2="416.2" y2="208.51" stroke="#000" stroke-width="0.6" stroke-linecap="butt"/>
<line x1="414.7" y1="234.73" x2="416.2" y2="234.73" stroke="#000" stroke-width="0.6" stroke-linecap="butt"/>
<line x1="414.7" y1="231.93" x2="416.2" y2="231.93" stroke="#000" stroke-width="0.6" stroke-linecap="butt"/>
<line x1="414.7" y1="229.95" x2="416.2" y2="229.95" stroke="#000" stroke-width="0.6" stroke-linecap="butt"/>
<line x1="414.7" y1="228.41" x2="416.2" y2="228.41" stroke="#000" stroke-width="0.6" stroke-linecap="butt"/>
<line x1="414.7" y1="227.16" x2="416.2" y2="227.16" stroke="#000" stroke-width="0.6" stroke-linecap="butt"/>
<line x1="414.7" y1="226.1" x2="416.2" y2="226.1" stroke="#000" stroke-width="0.6" stroke-linecap="butt"/>
<line x1="414.7" y1="225.18" x2="416.2" y2="225.18" stroke="#000" stroke-width="0.6" stroke-linecap="butt"/>
<line x1="414.7" y1="224.37" x2="416.2" y2="224.37" stroke="#000" stroke-width="0.6" stroke-linecap="butt"/>
<text transform="translate(396.2 197.1) rotate(-90)" x="0" y="0" font-size="6.6" text-anchor="middle" fill="#383838" stroke="#383838" stroke-width="0.2" textLength="36.3" lengthAdjust="spacingAndGlyphs">IL-18 (pg/mL)</text>
<line x1="415.6" y1="239.5" x2="500" y2="239.5" stroke="#000" stroke-width="1.25" stroke-linecap="butt"/>
<line x1="429.5" y1="239.5" x2="429.5" y2="242.3" stroke="#000" stroke-width="0.9" stroke-linecap="butt"/>
<line x1="448.8" y1="239.5" x2="448.8" y2="242.3" stroke="#000" stroke-width="0.9" stroke-linecap="butt"/>
<line x1="468.2" y1="239.5" x2="468.2" y2="242.3" stroke="#000" stroke-width="0.9" stroke-linecap="butt"/>
<line x1="487.5" y1="239.5" x2="487.5" y2="242.3" stroke="#000" stroke-width="0.9" stroke-linecap="butt"/>
<text x="403" y="250.3" font-size="6" text-anchor="start" fill="#3a3a3a" stroke="#3a3a3a" stroke-width="0.1" textLength="24.5" lengthAdjust="spacingAndGlyphs">Anti-CD8</text>
<line x1="428.75" y1="248.7" x2="430.25" y2="248.7" stroke="#666" stroke-width="0.75" stroke-linecap="butt"/>
<line x1="447.75" y1="248.7" x2="449.85" y2="248.7" stroke="#444" stroke-width="0.75" stroke-linecap="butt"/>
<line x1="448.8" y1="247.65" x2="448.8" y2="249.75" stroke="#444" stroke-width="0.75" stroke-linecap="butt"/>
<line x1="467.45" y1="248.7" x2="468.95" y2="248.7" stroke="#666" stroke-width="0.75" stroke-linecap="butt"/>
<line x1="486.45" y1="248.7" x2="488.55" y2="248.7" stroke="#444" stroke-width="0.75" stroke-linecap="butt"/>
<line x1="487.5" y1="247.65" x2="487.5" y2="249.75" stroke="#444" stroke-width="0.75" stroke-linecap="butt"/>
<text x="439.5" y="257.1" font-size="6" text-anchor="middle" fill="#5a68b8" stroke="#5a68b8" stroke-width="0.05" textLength="14.2" lengthAdjust="spacingAndGlyphs">Prf1-/-</text>
<text x="478" y="257.1" font-size="6" text-anchor="middle" fill="#d8484c" stroke="#d8484c" stroke-width="0.05" textLength="14" lengthAdjust="spacingAndGlyphs">Il18tg</text>
<line x1="416.2" y1="202.7" x2="500" y2="202.7" stroke="#3a3a3a" stroke-width="1.2" stroke-dasharray="2.1 1.7" stroke-linecap="butt"/>
<line x1="469.5" y1="161.9" x2="485.3" y2="161.9" stroke="#3a3a3a" stroke-width="1.1" stroke-linecap="butt"/>
<ellipse cx="473.8" cy="159.1" rx="0.75" ry="0.95" fill="#444"/>
<ellipse cx="476.2" cy="159.1" rx="0.75" ry="0.95" fill="#444"/>
<ellipse cx="478.6" cy="159.1" rx="0.75" ry="0.95" fill="#444"/>
<ellipse cx="481" cy="159.1" rx="0.75" ry="0.95" fill="#444"/>
<circle cx="423.9" cy="186.7" r="1.2" fill="#243292"/>
<circle cx="429.5" cy="185.9" r="1.2" fill="#243292"/>
<circle cx="435.2" cy="188.1" r="1.2" fill="#243292"/>
<circle cx="423.9" cy="189.3" r="1.2" fill="#243292"/>
<circle cx="429.5" cy="189.3" r="1.2" fill="#243292"/>
<circle cx="435.2" cy="190.2" r="1.2" fill="#243292"/>
<circle cx="429.5" cy="191.9" r="1.2" fill="#243292"/>
<circle cx="429.5" cy="199.7" r="1.2" fill="#243292"/>
<circle cx="429.5" cy="207.5" r="1.2" fill="#243292"/>
<line x1="422.7" y1="189.3" x2="436.1" y2="189.3" stroke="#243292" stroke-width="1" stroke-linecap="butt"/>
<circle cx="443.1" cy="198.8" r="1.15" fill="none" stroke="#243292" stroke-width="0.7"/>
<circle cx="443.1" cy="200.8" r="1.15" fill="none" stroke="#243292" stroke-width="0.7"/>
<circle cx="443.1" cy="204.5" r="1.15" fill="none" stroke="#243292" stroke-width="0.7"/>
<circle cx="443.1" cy="206.9" r="1.15" fill="none" stroke="#243292" stroke-width="0.7"/>
<circle cx="446.8" cy="200.5" r="1.15" fill="none" stroke="#243292" stroke-width="0.7"/>
<circle cx="450.2" cy="200.1" r="1.15" fill="none" stroke="#243292" stroke-width="0.7"/>
<circle cx="450.2" cy="206.2" r="1.15" fill="none" stroke="#243292" stroke-width="0.7"/>
<circle cx="454" cy="201.1" r="1.15" fill="none" stroke="#243292" stroke-width="0.7"/>
<circle cx="454.3" cy="204.9" r="1.15" fill="none" stroke="#243292" stroke-width="0.7"/>
<line x1="441.7" y1="202.5" x2="456.3" y2="202.5" stroke="#243292" stroke-width="1" stroke-linecap="butt"/>
<circle cx="462.7" cy="166.5" r="1.2" fill="#c20e10"/>
<circle cx="465.2" cy="167.5" r="1.2" fill="#c20e10"/>
<circle cx="467.8" cy="166.1" r="1.2" fill="#c20e10"/>
<circle cx="470.4" cy="166.6" r="1.2" fill="#c20e10"/>
<circle cx="472.9" cy="167" r="1.2" fill="#c20e10"/>
<circle cx="467" cy="169.5" r="1.2" fill="#c20e10"/>
<circle cx="470" cy="170.7" r="1.2" fill="#c20e10"/>
<circle cx="467.8" cy="173.3" r="1.2" fill="#c20e10"/>
<circle cx="467.8" cy="185.3" r="1.2" fill="#c20e10"/>
<line x1="461.8" y1="167" x2="473.8" y2="167" stroke="#c20e10" stroke-width="1" stroke-linecap="butt"/>
<circle cx="487.3" cy="177.4" r="1.15" fill="none" stroke="#c20e10" stroke-width="0.7"/>
<circle cx="482" cy="184.1" r="1.15" fill="none" stroke="#c20e10" stroke-width="0.7"/>
<circle cx="484.7" cy="183.3" r="1.15" fill="none" stroke="#c20e10" stroke-width="0.7"/>
<circle cx="487.3" cy="184.5" r="1.15" fill="none" stroke="#c20e10" stroke-width="0.7"/>
<circle cx="490" cy="184.1" r="1.15" fill="none" stroke="#c20e10" stroke-width="0.7"/>
<circle cx="492.6" cy="183.7" r="1.15" fill="none" stroke="#c20e10" stroke-width="0.7"/>
<circle cx="490.3" cy="187.5" r="1.15" fill="none" stroke="#c20e10" stroke-width="0.7"/>
<circle cx="487.3" cy="189.7" r="1.15" fill="none" stroke="#c20e10" stroke-width="0.7"/>
<circle cx="487.3" cy="186.5" r="1.15" fill="none" stroke="#c20e10" stroke-width="0.7"/>
<line x1="481.3" y1="184.2" x2="493.7" y2="184.2" stroke="#c20e10" stroke-width="1" stroke-linecap="butt"/>
<rect x="0.5" y="0.5" width="519" height="264" fill="none" stroke="#000" stroke-width="1"/>
</svg></body></html>
